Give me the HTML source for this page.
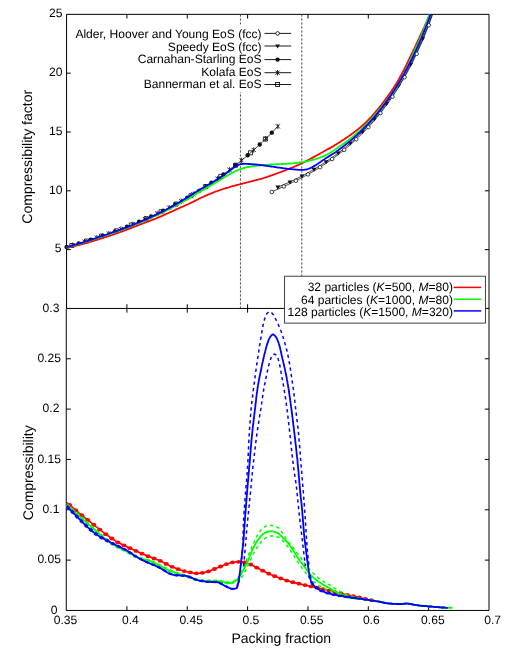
<!DOCTYPE html>
<html><head><meta charset="utf-8"><title>chart</title>
<style>html,body{margin:0;padding:0;background:#fff;width:518px;height:657px;overflow:hidden}</style></head>
<body>
<svg width="518" height="657" viewBox="0 0 518 657" style="position:absolute;left:0;top:0;opacity:0.9999;will-change:transform;font-family:'Liberation Sans',sans-serif" text-rendering="geometricPrecision">
<rect x="0" y="0" width="518" height="657" fill="#fff"/>
<g stroke="#000" stroke-width="1" fill="none">
<path d="M66.55,308.45 L66.55,14.35 L489.0,14.35 L489.0,610.45 L66.25,610.45 L66.25,308.45"/>
<line x1="66.55" y1="308.45" x2="489.0" y2="308.45"/>
<line x1="126.90" y1="14.35" x2="126.90" y2="18.55"/>
<line x1="126.90" y1="304.25" x2="126.90" y2="312.65"/>
<line x1="126.90" y1="610.45" x2="126.90" y2="606.25"/>
<line x1="187.25" y1="14.35" x2="187.25" y2="18.55"/>
<line x1="187.25" y1="304.25" x2="187.25" y2="312.65"/>
<line x1="187.25" y1="610.45" x2="187.25" y2="606.25"/>
<line x1="247.60" y1="14.35" x2="247.60" y2="18.55"/>
<line x1="247.60" y1="304.25" x2="247.60" y2="312.65"/>
<line x1="247.60" y1="610.45" x2="247.60" y2="606.25"/>
<line x1="307.95" y1="14.35" x2="307.95" y2="18.55"/>
<line x1="307.95" y1="304.25" x2="307.95" y2="312.65"/>
<line x1="307.95" y1="610.45" x2="307.95" y2="606.25"/>
<line x1="368.30" y1="14.35" x2="368.30" y2="18.55"/>
<line x1="368.30" y1="304.25" x2="368.30" y2="312.65"/>
<line x1="368.30" y1="610.45" x2="368.30" y2="606.25"/>
<line x1="428.65" y1="14.35" x2="428.65" y2="18.55"/>
<line x1="428.65" y1="304.25" x2="428.65" y2="312.65"/>
<line x1="428.65" y1="610.45" x2="428.65" y2="606.25"/>
<line x1="66.55" y1="249.63" x2="70.75" y2="249.63"/>
<line x1="489.0" y1="249.63" x2="484.8" y2="249.63"/>
<line x1="66.55" y1="190.81" x2="70.75" y2="190.81"/>
<line x1="489.0" y1="190.81" x2="484.8" y2="190.81"/>
<line x1="66.55" y1="131.99" x2="70.75" y2="131.99"/>
<line x1="489.0" y1="131.99" x2="484.8" y2="131.99"/>
<line x1="66.55" y1="73.17" x2="70.75" y2="73.17"/>
<line x1="489.0" y1="73.17" x2="484.8" y2="73.17"/>
<line x1="66.25" y1="560.12" x2="70.85000000000001" y2="560.12"/>
<line x1="489.0" y1="560.12" x2="484.8" y2="560.12"/>
<line x1="66.25" y1="509.78" x2="70.85000000000001" y2="509.78"/>
<line x1="489.0" y1="509.78" x2="484.8" y2="509.78"/>
<line x1="66.25" y1="459.45" x2="70.85000000000001" y2="459.45"/>
<line x1="489.0" y1="459.45" x2="484.8" y2="459.45"/>
<line x1="66.25" y1="409.12" x2="70.85000000000001" y2="409.12"/>
<line x1="489.0" y1="409.12" x2="484.8" y2="409.12"/>
<line x1="66.25" y1="358.78" x2="70.85000000000001" y2="358.78"/>
<line x1="489.0" y1="358.78" x2="484.8" y2="358.78"/>
</g>
<line x1="240.45" y1="14.35" x2="240.45" y2="308.45" stroke="#333" stroke-width="0.85" stroke-dasharray="2.3,1.7"/>
<line x1="301.75" y1="14.35" x2="301.75" y2="308.45" stroke="#333" stroke-width="0.85" stroke-dasharray="2.3,1.7"/>
<defs><clipPath id="ct"><rect x="61.599999999999994" y="14.1" width="427.45000000000005" height="294.25"/></clipPath><clipPath id="cb"><rect x="66.6" y="308.25" width="422.45000000000005" height="301.75"/></clipPath></defs>
<g clip-path="url(#ct)" fill="none" stroke-linejoin="round" stroke-linecap="butt">
<path d="M66.6,247.0 67.6,246.7 68.6,246.4 69.6,246.1 70.6,245.8 71.6,245.6 72.6,245.3 73.6,245.0 74.6,244.7 75.6,244.4 76.6,244.1 77.6,243.8 78.6,243.5 79.6,243.2 80.6,242.9 81.6,242.6 82.6,242.3 83.6,242.0 84.6,241.6 85.6,241.3 86.6,241.0 87.6,240.7 88.6,240.4 89.6,240.1 90.6,239.7 91.6,239.4 92.6,239.1 93.6,238.8 94.6,238.4 95.6,238.1 96.6,237.8 97.6,237.4 98.6,237.1 99.6,236.8 100.6,236.4 101.6,236.1 102.6,235.7 103.6,235.4 104.6,235.1 105.6,234.7 106.6,234.4 107.6,234.0 108.6,233.6 109.6,233.3 110.6,232.9 111.6,232.6 112.6,232.2 113.6,231.8 114.6,231.5 115.6,231.1 116.6,230.7 117.6,230.3 118.6,230.0 119.6,229.6 120.6,229.2 121.6,228.8 122.6,228.4 123.6,228.0 124.6,227.7 125.6,227.3 126.6,226.9 127.6,226.5 128.6,226.1 129.6,225.7 130.6,225.3 131.6,224.9 132.6,224.4 133.6,224.0 134.6,223.6 135.6,223.2 136.6,222.8 137.6,222.4 138.6,221.9 139.6,221.5 140.6,221.1 141.6,220.7 142.6,220.2 143.6,219.8 144.6,219.3 145.6,218.9 146.6,218.5 147.6,218.0 148.6,217.6 149.6,217.1 150.6,216.6 151.6,216.2 152.6,215.7 153.6,215.3 154.6,214.8 155.6,214.3 156.6,213.8 157.6,213.4 158.6,212.9 159.6,212.4 160.6,211.9 161.6,211.4 162.6,210.9 163.6,210.4 164.6,210.0 165.6,209.5 166.6,208.9 167.6,208.4 168.6,207.9 169.6,207.4 170.6,206.9 171.6,206.4 172.6,205.9 173.6,205.3 174.6,204.8 175.6,204.3 176.6,203.7 177.6,203.2 178.6,202.7 179.6,202.1 180.6,201.6 181.6,201.0 182.6,200.5 183.6,199.9 184.6,199.3 185.6,198.8 186.6,198.2 187.6,197.6 188.6,197.0 189.6,196.5 190.6,195.9 191.6,195.3 192.6,194.7 193.6,194.1 194.6,193.5 195.6,192.9 196.6,192.3 197.6,191.7 198.6,191.1 199.6,190.4 200.6,189.8 201.6,189.2 202.6,188.6 203.6,187.9 204.6,187.3 205.6,186.6 206.6,186.0 207.6,185.3 208.6,184.7 209.6,184.0 210.6,183.3 211.6,182.7 212.6,182.0 213.6,181.3 214.6,180.6 215.6,179.9 216.6,179.3 217.6,178.6 218.6,177.9 219.6,177.1 220.6,176.4 221.6,175.7 222.6,175.0 223.6,174.3 224.6,173.5 225.6,172.8 226.6,172.1 227.6,171.3 228.6,170.6 229.6,169.8 230.6,169.0 231.6,168.3 232.6,167.5 233.6,166.7 234.6,166.0 235.6,165.2 236.6,164.4 237.6,163.6 238.6,162.8 239.6,162.0 240.6,161.1 241.6,160.3 242.6,159.5 243.6,158.7 244.6,157.8 245.6,157.0 246.6,156.1 247.6,155.3 248.6,154.4 249.6,153.6 250.6,152.7 251.6,151.8 252.6,150.9 253.6,150.0 254.6,149.1 255.6,148.2 256.6,147.3 257.6,146.4 258.6,145.5 259.6,144.5 260.6,143.6 261.6,142.7 262.6,141.7 263.6,140.8 264.6,139.8 265.6,138.8 266.6,137.9 267.6,136.9 268.6,135.9 269.6,134.9 270.6,133.9 271.6,132.9 272.6,131.8 273.6,130.8 274.6,129.8 275.6,128.7 276.6,127.7 277.6,126.6" stroke="#111" stroke-width="0.85"/>
<path d="M277.8,187.0 279.0,186.5 280.2,186.1 281.4,185.6 282.7,185.1 283.9,184.5 285.1,184.0 286.3,183.5 287.5,183.0 288.7,182.4 289.9,181.9 291.1,181.3 292.3,180.8 293.5,180.2 294.7,179.6 295.9,179.0 297.1,178.4 298.3,177.8 299.6,177.2 300.8,176.6 302.0,176.0 303.2,175.3 304.4,174.7 305.6,174.1 306.8,173.4 308.0,172.7 309.2,172.1 310.4,171.4 311.6,170.7 312.8,170.0 314.0,169.3 315.2,168.6 316.4,167.8 317.7,167.1 318.9,166.3 320.1,165.6 321.3,164.8 322.5,164.0 323.7,163.3 324.9,162.5 326.1,161.7 327.3,160.8 328.5,160.0 329.7,159.2 330.9,158.3 332.1,157.5 333.3,156.6 334.6,155.7 335.8,154.8 337.0,153.9 338.2,153.0 339.4,152.1 340.6,151.1 341.8,150.2 343.0,149.2 344.2,148.2 345.4,147.2 346.6,146.2 347.8,145.2 349.0,144.2 350.2,143.1 351.5,142.1 352.7,141.0 353.9,139.9 355.1,138.8 356.3,137.7 357.5,136.5 358.7,135.4 359.9,134.2 361.1,133.0 362.3,131.8 363.5,130.6 364.7,129.4 365.9,128.1 367.1,126.9 368.4,125.6 369.6,124.2 370.8,122.9 372.0,121.6 373.2,120.2 374.4,118.8 375.6,117.4 376.8,116.0 378.0,114.5 379.2,113.0 380.4,111.5 381.6,110.0 382.8,108.4 384.0,106.9 385.2,105.3 386.5,103.6 387.7,102.0 388.9,100.3 390.1,98.6 391.3,96.8 392.5,95.1 393.7,93.3 394.9,91.4 396.1,89.6 397.3,87.7 398.5,85.8 399.7,83.8 400.9,81.8 402.1,79.8 403.4,77.7 404.6,75.6 405.8,73.4 407.0,71.3 408.2,69.0 409.4,66.8 410.6,64.5 411.8,62.1 413.0,59.7 414.2,57.2 415.4,54.7 416.6,52.2 417.8,49.6 419.0,46.9 420.3,44.2 421.5,41.5 422.7,38.6 423.9,35.8 425.1,32.8 426.3,29.8 427.5,26.7 428.7,23.6 429.9,20.4 431.1,17.1 432.3,13.7 433.5,10.3 434.7,6.7 435.9,3.1 437.1,-0.6 438.4,-4.4 439.6,-8.2 440.8,-12.2" stroke="#111" stroke-width="0.85"/>
<path d="M271.8,192.0 273.0,191.4 274.2,190.8 275.4,190.3 276.6,189.7 277.8,189.2 279.0,188.6 280.2,188.1 281.4,187.5 282.7,187.0 283.9,186.4 285.1,185.9 286.3,185.3 287.5,184.8 288.7,184.2 289.9,183.6 291.1,183.1 292.3,182.5 293.5,181.9 294.7,181.3 295.9,180.7 297.1,180.1 298.3,179.5 299.6,178.9 300.8,178.2 302.0,177.6 303.2,177.0 304.4,176.3 305.6,175.7 306.8,175.0 308.0,174.3 309.2,173.7 310.4,173.0 311.6,172.3 312.8,171.6 314.0,170.9 315.2,170.2 316.4,169.4 317.7,168.7 318.9,167.9 320.1,167.2 321.3,166.4 322.5,165.6 323.7,164.8 324.9,164.1 326.1,163.2 327.3,162.4 328.5,161.6 329.7,160.8 330.9,159.9 332.1,159.1 333.3,158.2 334.6,157.3 335.8,156.4 337.0,155.5 338.2,154.6 339.4,153.7 340.6,152.7 341.8,151.8 343.0,150.8 344.2,149.8 345.4,148.8 346.6,147.8 347.8,146.8 349.0,145.8 350.2,144.7 351.5,143.7 352.7,142.6 353.9,141.5 355.1,140.4 356.3,139.3 357.5,138.1 358.7,137.0 359.9,135.8 361.1,134.6 362.3,133.4 363.5,132.2 364.7,131.0 365.9,129.7 367.1,128.4 368.4,127.2 369.6,125.8 370.8,124.5 372.0,123.2 373.2,121.8 374.4,120.4 375.6,119.0 376.8,117.5 378.0,116.1 379.2,114.6 380.4,113.1 381.6,111.6 382.8,110.0 384.0,108.4 385.2,106.8 386.5,105.2 387.7,103.6 388.9,101.9 390.1,100.2 391.3,98.4 392.5,96.7 393.7,94.9 394.9,93.0 396.1,91.2 397.3,89.3 398.5,87.3 399.7,85.4 400.9,83.4 402.1,81.4 403.4,79.3 404.6,77.2 405.8,75.0 407.0,72.9 408.2,70.6 409.4,68.4 410.6,66.0 411.8,63.7 413.0,61.3 414.2,58.8 415.4,56.3 416.6,53.8 417.8,51.2 419.0,48.5 420.3,45.8 421.5,43.1 422.7,40.2 423.9,37.3 425.1,34.4 426.3,31.4 427.5,28.3 428.7,25.2 429.9,21.9 431.1,18.7 432.3,15.3 433.5,11.8 434.7,8.3 435.9,4.7 437.1,1.0 438.4,-2.8 439.6,-6.6 440.8,-10.6" stroke="#111" stroke-width="0.85"/>
<rect x="69.75" y="243.51" width="4.0" height="4.0" fill="none" stroke="#111" stroke-width="0.85"/>
<rect x="84.65" y="239.01" width="4.0" height="4.0" fill="none" stroke="#111" stroke-width="0.85"/>
<rect x="99.54" y="234.11" width="4.0" height="4.0" fill="none" stroke="#111" stroke-width="0.85"/>
<rect x="114.44" y="228.78" width="4.0" height="4.0" fill="none" stroke="#111" stroke-width="0.85"/>
<rect x="129.33" y="222.97" width="4.0" height="4.0" fill="none" stroke="#111" stroke-width="0.85"/>
<rect x="144.23" y="216.62" width="4.0" height="4.0" fill="none" stroke="#111" stroke-width="0.85"/>
<rect x="159.12" y="209.67" width="4.0" height="4.0" fill="none" stroke="#111" stroke-width="0.85"/>
<rect x="174.01" y="202.05" width="4.0" height="4.0" fill="none" stroke="#111" stroke-width="0.85"/>
<rect x="188.91" y="193.69" width="4.0" height="4.0" fill="none" stroke="#111" stroke-width="0.85"/>
<rect x="203.80" y="184.50" width="4.0" height="4.0" fill="none" stroke="#111" stroke-width="0.85"/>
<rect x="218.70" y="174.36" width="4.0" height="4.0" fill="none" stroke="#111" stroke-width="0.85"/>
<rect x="233.59" y="163.17" width="4.0" height="4.0" fill="none" stroke="#111" stroke-width="0.85"/>
<rect x="248.49" y="150.78" width="4.0" height="4.0" fill="none" stroke="#111" stroke-width="0.85"/>
<rect x="263.38" y="137.04" width="4.0" height="4.0" fill="none" stroke="#111" stroke-width="0.85"/>
<path d="M70.54,243.15 L74.73,247.35 M70.54,247.35 L74.73,243.15 M72.64,242.55 L72.64,247.95" stroke="#111" stroke-width="0.9"/>
<path d="M82.61,239.51 L86.81,243.71 M82.61,243.71 L86.81,239.51 M84.71,238.91 L84.71,244.31" stroke="#111" stroke-width="0.9"/>
<path d="M94.68,235.62 L98.88,239.82 M94.68,239.82 L98.88,235.62 M96.78,235.02 L96.78,240.42" stroke="#111" stroke-width="0.9"/>
<path d="M106.75,231.46 L110.95,235.66 M106.75,235.66 L110.95,231.46 M108.85,230.86 L108.85,236.26" stroke="#111" stroke-width="0.9"/>
<path d="M118.82,226.99 L123.02,231.19 M118.82,231.19 L123.02,226.99 M120.92,226.39 L120.92,231.79" stroke="#111" stroke-width="0.9"/>
<path d="M130.89,222.19 L135.09,226.39 M130.89,226.39 L135.09,222.19 M132.99,221.59 L132.99,226.99" stroke="#111" stroke-width="0.9"/>
<path d="M142.96,217.04 L147.16,221.24 M142.96,221.24 L147.16,217.04 M145.06,216.44 L145.06,221.84" stroke="#111" stroke-width="0.9"/>
<path d="M155.03,211.50 L159.23,215.70 M155.03,215.70 L159.23,211.50 M157.13,210.90 L157.13,216.30" stroke="#111" stroke-width="0.9"/>
<path d="M167.10,205.53 L171.30,209.73 M167.10,209.73 L171.30,205.53 M169.20,204.93 L169.20,210.33" stroke="#111" stroke-width="0.9"/>
<path d="M179.17,199.10 L183.37,203.30 M179.17,203.30 L183.37,199.10 M181.27,198.50 L181.27,203.90" stroke="#111" stroke-width="0.9"/>
<path d="M191.24,192.16 L195.44,196.36 M191.24,196.36 L195.44,192.16 M193.34,191.56 L193.34,196.96" stroke="#111" stroke-width="0.9"/>
<path d="M203.31,184.65 L207.51,188.85 M203.31,188.85 L207.51,184.65 M205.41,184.05 L205.41,189.45" stroke="#111" stroke-width="0.9"/>
<path d="M215.38,176.54 L219.58,180.74 M215.38,180.74 L219.58,176.54 M217.48,175.94 L217.48,181.34" stroke="#111" stroke-width="0.9"/>
<path d="M227.45,167.75 L231.65,171.95 M227.45,171.95 L231.65,167.75 M229.55,167.15 L229.55,172.55" stroke="#111" stroke-width="0.9"/>
<path d="M239.52,158.21 L243.72,162.41 M239.52,162.41 L243.72,158.21 M241.62,157.61 L241.62,163.01" stroke="#111" stroke-width="0.9"/>
<path d="M251.59,147.85 L255.79,152.05 M251.59,152.05 L255.79,147.85 M253.69,147.25 L253.69,152.65" stroke="#111" stroke-width="0.9"/>
<path d="M263.66,136.58 L267.86,140.78 M263.66,140.78 L267.86,136.58 M265.76,135.98 L265.76,141.38" stroke="#111" stroke-width="0.9"/>
<path d="M275.73,124.29 L279.93,128.49 M275.73,128.49 L279.93,124.29 M277.83,123.69 L277.83,129.09" stroke="#111" stroke-width="0.9"/>
<circle cx="66.60" cy="246.98" r="2.2" fill="#111" stroke="none"/>
<circle cx="78.67" cy="243.46" r="2.2" fill="#111" stroke="none"/>
<circle cx="90.74" cy="239.70" r="2.2" fill="#111" stroke="none"/>
<circle cx="102.81" cy="235.68" r="2.2" fill="#111" stroke="none"/>
<circle cx="114.88" cy="231.36" r="2.2" fill="#111" stroke="none"/>
<circle cx="126.95" cy="226.73" r="2.2" fill="#111" stroke="none"/>
<circle cx="139.02" cy="221.76" r="2.2" fill="#111" stroke="none"/>
<circle cx="151.09" cy="216.42" r="2.2" fill="#111" stroke="none"/>
<circle cx="163.16" cy="210.67" r="2.2" fill="#111" stroke="none"/>
<circle cx="175.23" cy="204.47" r="2.2" fill="#111" stroke="none"/>
<circle cx="187.30" cy="197.79" r="2.2" fill="#111" stroke="none"/>
<circle cx="199.37" cy="190.58" r="2.2" fill="#111" stroke="none"/>
<circle cx="211.44" cy="182.78" r="2.2" fill="#111" stroke="none"/>
<circle cx="223.51" cy="174.33" r="2.2" fill="#111" stroke="none"/>
<circle cx="235.58" cy="165.18" r="2.2" fill="#111" stroke="none"/>
<circle cx="247.65" cy="155.24" r="2.2" fill="#111" stroke="none"/>
<circle cx="259.72" cy="144.43" r="2.2" fill="#111" stroke="none"/>
<circle cx="271.79" cy="132.67" r="2.2" fill="#111" stroke="none"/>
<path d="M275.43,185.53 L280.23,185.53 L277.83,189.63 Z" fill="#111" stroke="none"/>
<path d="M287.50,180.38 L292.30,180.38 L289.90,184.48 Z" fill="#111" stroke="none"/>
<path d="M299.57,174.48 L304.37,174.48 L301.97,178.58 Z" fill="#111" stroke="none"/>
<path d="M311.64,167.77 L316.44,167.77 L314.04,171.87 Z" fill="#111" stroke="none"/>
<path d="M323.71,160.15 L328.51,160.15 L326.11,164.25 Z" fill="#111" stroke="none"/>
<path d="M335.78,151.50 L340.58,151.50 L338.18,155.60 Z" fill="#111" stroke="none"/>
<path d="M347.85,141.64 L352.65,141.64 L350.25,145.74 Z" fill="#111" stroke="none"/>
<path d="M359.92,130.34 L364.72,130.34 L362.32,134.44 Z" fill="#111" stroke="none"/>
<path d="M371.99,117.30 L376.79,117.30 L374.39,121.40 Z" fill="#111" stroke="none"/>
<path d="M384.06,102.12 L388.86,102.12 L386.46,106.22 Z" fill="#111" stroke="none"/>
<path d="M396.13,84.26 L400.93,84.26 L398.53,88.36 Z" fill="#111" stroke="none"/>
<path d="M408.20,62.95 L413.00,62.95 L410.60,67.05 Z" fill="#111" stroke="none"/>
<path d="M420.27,37.14 L425.07,37.14 L422.67,41.24 Z" fill="#111" stroke="none"/>
<path d="M432.34,5.23 L437.14,5.23 L434.74,9.33 Z" fill="#111" stroke="none"/>
<circle cx="271.79" cy="191.97" r="1.8" fill="#fff" stroke="#111" stroke-width="0.8"/>
<circle cx="283.86" cy="186.44" r="1.8" fill="#fff" stroke="#111" stroke-width="0.8"/>
<circle cx="295.93" cy="180.71" r="1.8" fill="#fff" stroke="#111" stroke-width="0.8"/>
<circle cx="308.00" cy="174.35" r="1.8" fill="#fff" stroke="#111" stroke-width="0.8"/>
<circle cx="320.07" cy="167.18" r="1.8" fill="#fff" stroke="#111" stroke-width="0.8"/>
<circle cx="332.14" cy="159.06" r="1.8" fill="#fff" stroke="#111" stroke-width="0.8"/>
<circle cx="344.21" cy="149.82" r="1.8" fill="#fff" stroke="#111" stroke-width="0.8"/>
<circle cx="356.28" cy="139.27" r="1.8" fill="#fff" stroke="#111" stroke-width="0.8"/>
<circle cx="368.35" cy="127.15" r="1.8" fill="#fff" stroke="#111" stroke-width="0.8"/>
<circle cx="380.42" cy="113.10" r="1.8" fill="#fff" stroke="#111" stroke-width="0.8"/>
<circle cx="392.49" cy="96.66" r="1.8" fill="#fff" stroke="#111" stroke-width="0.8"/>
<circle cx="404.56" cy="77.18" r="1.8" fill="#fff" stroke="#111" stroke-width="0.8"/>
<circle cx="416.63" cy="53.78" r="1.8" fill="#fff" stroke="#111" stroke-width="0.8"/>
<circle cx="428.70" cy="25.16" r="1.8" fill="#fff" stroke="#111" stroke-width="0.8"/>
<circle cx="440.77" cy="-10.62" r="1.8" fill="#fff" stroke="#111" stroke-width="0.8"/>
<path d="M66.6,248.0 67.6,247.7 68.6,247.5 69.5,247.3 70.5,247.0 71.5,246.8 72.4,246.5 73.4,246.3 74.4,246.1 75.4,245.8 76.3,245.6 77.3,245.3 78.3,245.1 79.3,244.8 80.2,244.6 81.2,244.3 82.2,244.0 83.1,243.8 84.1,243.5 85.1,243.3 86.0,243.0 87.0,242.7 88.0,242.5 88.9,242.2 89.9,241.9 90.9,241.6 91.8,241.3 92.8,241.1 93.8,240.8 94.7,240.5 95.7,240.2 96.6,239.9 97.6,239.6 98.6,239.3 99.5,239.0 100.5,238.7 101.4,238.5 102.4,238.1 103.3,237.8 104.3,237.5 105.3,237.2 106.2,236.9 107.2,236.6 108.1,236.3 109.1,236.0 110.0,235.7 111.0,235.3 111.9,235.0 112.9,234.7 113.8,234.4 114.8,234.0 115.7,233.7 116.7,233.4 117.6,233.0 118.6,232.7 119.5,232.4 120.4,232.0 121.4,231.7 122.3,231.3 123.3,231.0 124.2,230.6 125.1,230.3 126.1,229.9 127.0,229.6 128.0,229.2 128.9,228.9 129.8,228.5 130.8,228.1 131.7,227.8 132.6,227.4 133.6,227.0 134.5,226.7 135.4,226.3 136.4,226.0 137.3,225.6 138.3,225.2 139.2,224.9 140.1,224.5 141.1,224.2 142.0,223.8 142.9,223.4 143.9,223.1 144.8,222.7 145.8,222.4 146.7,222.0 147.6,221.7 148.6,221.3 149.5,221.0 150.4,220.6 151.4,220.2 152.3,219.9 153.3,219.5 154.2,219.1 155.1,218.8 156.1,218.4 157.0,218.0 157.9,217.6 158.8,217.2 159.8,216.9 160.7,216.5 161.6,216.1 162.5,215.7 163.4,215.3 164.4,214.9 165.3,214.4 166.2,214.0 167.1,213.6 168.0,213.2 168.9,212.8 169.8,212.4 170.7,211.9 171.7,211.5 172.6,211.1 173.5,210.7 174.4,210.3 175.3,209.9 176.2,209.4 177.1,209.0 178.1,208.6 179.0,208.2 179.9,207.8 180.8,207.4 181.7,207.0 182.7,206.6 183.6,206.2 184.5,205.8 185.4,205.4 186.3,205.0 187.2,204.6 188.1,204.2 189.0,203.7 190.0,203.3 190.9,202.9 191.8,202.4 192.6,202.0 193.5,201.5 194.4,201.1 195.3,200.6 196.2,200.2 197.1,199.7 198.0,199.3 198.9,198.8 199.8,198.4 200.7,198.0 201.6,197.5 202.5,197.1 203.5,196.7 204.4,196.3 205.3,195.9 206.2,195.5 207.1,195.1 208.1,194.7 209.0,194.3 209.9,193.9 210.8,193.5 211.8,193.1 212.7,192.8 213.6,192.4 214.6,192.0 215.5,191.7 216.4,191.3 217.4,191.0 218.3,190.6 219.3,190.3 220.2,190.0 221.2,189.7 222.1,189.3 223.1,189.0 224.0,188.7 225.0,188.4 225.9,188.1 226.9,187.8 227.9,187.6 228.8,187.3 229.8,187.0 230.7,186.7 231.7,186.4 232.7,186.2 233.6,185.9 234.6,185.6 235.6,185.4 236.5,185.1 237.5,184.8 238.5,184.6 239.5,184.3 240.4,184.1 241.4,183.8 242.4,183.6 243.3,183.3 244.3,183.1 245.3,182.8 246.3,182.6 247.2,182.4 248.2,182.1 249.2,181.9 250.2,181.6 251.1,181.4 252.1,181.2 253.1,180.9 254.1,180.7 255.0,180.4 256.0,180.2 257.0,179.9 257.9,179.7 258.9,179.4 259.9,179.1 260.8,178.8 261.8,178.6 262.8,178.3 263.7,178.0 264.7,177.7 265.6,177.4 266.6,177.1 267.5,176.7 268.5,176.4 269.4,176.1 270.4,175.8 271.3,175.4 272.3,175.1 273.2,174.7 274.1,174.4 275.1,174.1 276.0,173.7 277.0,173.4 277.9,173.0 278.9,172.7 279.8,172.3 280.7,172.0 281.7,171.6 282.6,171.3 283.6,170.9 284.5,170.6 285.4,170.2 286.4,169.9 287.3,169.5 288.3,169.2 289.2,168.8 290.1,168.4 291.0,168.0 292.0,167.7 292.9,167.3 293.8,166.9 294.7,166.5 295.7,166.1 296.6,165.7 297.5,165.3 298.4,164.9 299.3,164.5 300.2,164.0 301.1,163.6 302.0,163.2 302.9,162.7 303.8,162.3 304.7,161.8 305.6,161.4 306.5,160.9 307.4,160.5 308.3,160.0 309.2,159.5 310.1,159.0 311.0,158.6 311.8,158.1 312.7,157.6 313.6,157.1 314.5,156.6 315.4,156.1 316.2,155.7 317.1,155.2 318.0,154.7 318.9,154.2 319.7,153.7 320.6,153.2 321.5,152.8 322.4,152.3 323.3,151.8 324.1,151.3 325.0,150.8 325.9,150.3 326.8,149.8 327.6,149.4 328.5,148.9 329.4,148.4 330.3,147.9 331.1,147.4 332.0,146.9 332.9,146.4 333.7,145.9 334.6,145.3 335.4,144.8 336.3,144.3 337.1,143.8 338.0,143.2 338.8,142.7 339.7,142.2 340.5,141.6 341.4,141.1 342.2,140.6 343.1,140.0 343.9,139.5 344.7,138.9 345.6,138.4 346.4,137.8 347.2,137.3 348.1,136.7 348.9,136.1 349.7,135.6 350.5,135.0 351.3,134.4 352.1,133.8 352.9,133.2 353.7,132.6 354.5,132.0 355.3,131.4 356.1,130.8 356.9,130.1 357.7,129.5 358.5,128.9 359.3,128.3 360.0,127.6 360.8,127.0 361.6,126.4 362.3,125.7 363.1,125.0 363.8,124.4 364.6,123.7 365.3,123.0 366.0,122.3 366.7,121.6 367.4,120.9 368.1,120.2 368.8,119.5 369.5,118.7 370.2,118.0 370.9,117.3 371.6,116.5 372.2,115.8 372.9,115.0 373.6,114.3 374.2,113.5 374.9,112.8 375.5,112.0 376.2,111.2 376.8,110.5 377.5,109.7 378.1,108.9 378.8,108.2 379.4,107.4 380.0,106.6 380.6,105.8 381.3,105.0 381.9,104.2 382.5,103.4 383.1,102.6 383.7,101.8 384.3,101.0 384.9,100.2 385.5,99.4 386.1,98.6 386.7,97.8 387.3,97.0 387.9,96.2 388.5,95.4 389.0,94.6 389.6,93.7 390.2,92.9 390.8,92.1 391.3,91.3 391.9,90.4 392.4,89.6 393.0,88.8 393.6,87.9 394.1,87.1 394.6,86.2 395.2,85.4 395.7,84.5 396.2,83.7 396.7,82.8 397.3,82.0 397.8,81.1 398.3,80.2 398.8,79.4 399.3,78.5 399.7,77.6 400.2,76.7 400.7,75.8 401.2,75.0 401.7,74.1 402.1,73.2 402.6,72.3 403.1,71.4 403.5,70.5 404.0,69.6 404.4,68.7 404.9,67.9 405.4,67.0 405.8,66.1 406.3,65.2 406.7,64.3 407.1,63.4 407.6,62.5 408.0,61.6 408.4,60.7 408.9,59.7 409.3,58.8 409.7,57.9 410.2,57.0 410.6,56.1 411.0,55.2 411.5,54.3 411.9,53.4 412.3,52.5 412.8,51.6 413.2,50.7 413.6,49.8 414.1,48.9 414.5,48.0 414.9,47.1 415.4,46.2 415.8,45.3 416.2,44.3 416.6,43.4 417.1,42.5 417.5,41.6 417.9,40.7 418.3,39.8 418.8,38.9 419.2,38.0 419.6,37.1 420.0,36.2 420.5,35.3 420.9,34.3 421.3,33.4 421.7,32.5 422.2,31.6 422.6,30.7 423.0,29.8 423.4,28.9 423.8,28.0 424.3,27.1 424.7,26.2 425.1,25.2 425.5,24.3 425.9,23.4 426.3,22.5 426.7,21.6 427.1,20.6 427.5,19.7 427.9,18.8 428.3,17.9 428.6,16.9 429.0,16.0 429.4,15.1 429.7,14.1 430.1,13.2 430.5,12.3 430.8,11.3 431.2,10.4 431.5,9.4 431.9,8.5 432.2,7.6 432.5,6.6 432.9,5.7 433.2,4.7 433.5,3.8 433.8,2.8 434.1,1.9 434.5,0.9 434.8,-0.0 435.1,-1.0 435.4,-2.0 435.7,-2.9 436.0,-3.9" stroke="#ff0000" stroke-width="1.8"/>
<path d="M66.6,247.6 67.6,247.3 68.5,247.0 69.5,246.7 70.5,246.5 71.4,246.2 72.4,245.9 73.3,245.6 74.3,245.3 75.3,245.1 76.2,244.8 77.2,244.5 78.1,244.2 79.1,243.9 80.1,243.6 81.0,243.3 82.0,243.0 82.9,242.7 83.9,242.4 84.8,242.1 85.8,241.8 86.8,241.5 87.7,241.2 88.7,240.9 89.6,240.6 90.6,240.3 91.5,240.0 92.5,239.7 93.4,239.4 94.4,239.1 95.3,238.8 96.3,238.5 97.2,238.1 98.2,237.8 99.2,237.5 100.1,237.2 101.1,236.9 102.0,236.6 103.0,236.3 103.9,235.9 104.9,235.6 105.8,235.3 106.8,235.0 107.7,234.7 108.7,234.4 109.6,234.0 110.6,233.7 111.5,233.4 112.5,233.1 113.4,232.7 114.4,232.4 115.3,232.1 116.2,231.7 117.2,231.4 118.1,231.1 119.1,230.7 120.0,230.4 121.0,230.1 121.9,229.7 122.8,229.4 123.8,229.0 124.7,228.7 125.7,228.3 126.6,228.0 127.5,227.6 128.5,227.2 129.4,226.9 130.3,226.5 131.3,226.1 132.2,225.8 133.1,225.4 134.1,225.0 135.0,224.7 135.9,224.3 136.9,223.9 137.8,223.5 138.7,223.1 139.6,222.8 140.6,222.4 141.5,222.0 142.4,221.6 143.3,221.2 144.3,220.8 145.2,220.4 146.1,220.0 147.0,219.6 147.9,219.2 148.8,218.8 149.8,218.4 150.7,218.0 151.6,217.6 152.5,217.2 153.4,216.8 154.3,216.3 155.2,215.9 156.1,215.5 157.1,215.1 158.0,214.6 158.9,214.2 159.8,213.8 160.7,213.4 161.6,212.9 162.5,212.5 163.4,212.0 164.3,211.6 165.2,211.1 166.1,210.7 166.9,210.2 167.8,209.8 168.7,209.3 169.6,208.9 170.5,208.4 171.4,207.9 172.3,207.5 173.2,207.0 174.1,206.5 175.0,206.1 175.8,205.6 176.7,205.1 177.6,204.7 178.5,204.2 179.4,203.7 180.3,203.2 181.1,202.8 182.0,202.3 182.9,201.8 183.8,201.3 184.7,200.8 185.5,200.4 186.4,199.9 187.3,199.4 188.2,198.9 189.0,198.4 189.9,197.9 190.7,197.3 191.6,196.8 192.5,196.3 193.3,195.8 194.2,195.3 195.0,194.7 195.9,194.2 196.7,193.7 197.6,193.1 198.4,192.6 199.3,192.1 200.1,191.6 201.0,191.1 201.9,190.6 202.7,190.1 203.6,189.6 204.5,189.1 205.3,188.6 206.2,188.1 207.1,187.6 207.9,187.1 208.8,186.6 209.7,186.1 210.5,185.6 211.4,185.1 212.3,184.6 213.1,184.0 214.0,183.5 214.9,183.0 215.7,182.5 216.6,182.0 217.5,181.5 218.3,181.0 219.2,180.5 220.0,179.9 220.9,179.4 221.7,178.9 222.6,178.4 223.4,177.8 224.3,177.3 225.2,176.8 226.0,176.3 226.9,175.8 227.8,175.3 228.6,174.8 229.5,174.3 230.4,173.8 231.3,173.3 232.1,172.9 233.0,172.4 233.9,172.0 234.8,171.5 235.7,171.1 236.7,170.7 237.6,170.3 238.5,169.9 239.4,169.6 240.4,169.2 241.3,168.9 242.2,168.5 243.2,168.2 244.2,168.0 245.1,167.7 246.1,167.4 247.0,167.2 248.0,167.0 249.0,166.8 250.0,166.6 251.0,166.4 252.0,166.3 252.9,166.1 253.9,166.0 254.9,165.9 255.9,165.8 256.9,165.7 257.9,165.6 258.9,165.5 259.9,165.4 260.9,165.3 261.9,165.2 262.9,165.1 263.9,165.0 264.9,164.9 265.9,164.8 266.9,164.7 267.9,164.7 268.9,164.6 269.9,164.6 270.9,164.5 271.9,164.5 272.9,164.4 273.9,164.4 274.9,164.3 275.9,164.3 276.9,164.2 277.9,164.2 278.9,164.2 279.9,164.1 280.9,164.1 281.9,164.0 282.9,164.0 283.9,163.9 284.9,163.9 285.9,163.8 286.9,163.8 287.9,163.7 288.9,163.6 289.9,163.6 290.9,163.5 291.9,163.4 292.9,163.3 293.9,163.2 294.9,163.1 295.9,163.0 296.9,162.9 297.9,162.8 298.9,162.7 299.9,162.5 300.9,162.4 301.9,162.2 302.8,162.1 303.8,161.9 304.8,161.7 305.8,161.5 306.8,161.3 307.8,161.1 308.7,160.9 309.7,160.6 310.7,160.4 311.6,160.2 312.6,159.9 313.6,159.6 314.5,159.4 315.5,159.1 316.5,158.8 317.4,158.5 318.4,158.2 319.3,157.8 320.2,157.5 321.2,157.1 322.1,156.8 323.0,156.4 323.9,156.0 324.9,155.6 325.8,155.1 326.7,154.7 327.5,154.2 328.4,153.8 329.3,153.3 330.2,152.8 331.0,152.3 331.9,151.7 332.7,151.2 333.6,150.7 334.4,150.1 335.2,149.5 336.0,149.0 336.9,148.4 337.7,147.8 338.5,147.2 339.3,146.6 340.1,146.1 340.9,145.5 341.8,144.9 342.6,144.3 343.4,143.7 344.2,143.2 345.0,142.6 345.8,142.0 346.6,141.4 347.4,140.8 348.2,140.2 349.0,139.6 349.8,139.0 350.6,138.4 351.4,137.7 352.2,137.1 353.0,136.5 353.7,135.8 354.5,135.2 355.3,134.5 356.0,133.9 356.8,133.2 357.5,132.6 358.3,131.9 359.0,131.3 359.8,130.6 360.5,129.9 361.3,129.2 362.0,128.5 362.7,127.9 363.4,127.2 364.2,126.5 364.9,125.8 365.6,125.1 366.3,124.3 367.0,123.6 367.7,122.9 368.4,122.2 369.1,121.5 369.7,120.7 370.4,120.0 371.1,119.2 371.8,118.5 372.4,117.8 373.1,117.0 373.8,116.3 374.4,115.5 375.1,114.7 375.7,114.0 376.4,113.2 377.0,112.5 377.7,111.7 378.3,110.9 379.0,110.1 379.6,109.4 380.2,108.6 380.9,107.8 381.5,107.0 382.1,106.3 382.7,105.5 383.4,104.7 384.0,103.9 384.6,103.1 385.3,102.4 385.9,101.6 386.6,100.8 387.2,100.0 387.8,99.3 388.4,98.5 389.1,97.7 389.7,96.9 390.3,96.1 390.9,95.4 391.6,94.6 392.2,93.8 392.8,93.0 393.4,92.2 394.0,91.4 394.5,90.5 395.1,89.7 395.7,88.9 396.2,88.1 396.7,87.2 397.3,86.4 397.8,85.5 398.3,84.6 398.8,83.8 399.3,82.9 399.7,82.0 400.2,81.1 400.7,80.2 401.2,79.4 401.6,78.5 402.1,77.6 402.5,76.7 403.0,75.8 403.5,74.9 403.9,74.0 404.3,73.1 404.8,72.2 405.2,71.3 405.6,70.4 406.1,69.5 406.5,68.6 406.9,67.7 407.3,66.8 407.8,65.8 408.2,64.9 408.6,64.0 409.0,63.1 409.4,62.2 409.8,61.3 410.2,60.4 410.6,59.4 411.0,58.5 411.4,57.6 411.9,56.7 412.3,55.8 412.7,54.9 413.1,54.0 413.5,53.1 413.9,52.2 414.4,51.2 414.8,50.3 415.2,49.4 415.6,48.5 416.0,47.6 416.5,46.7 416.9,45.8 417.3,44.9 417.7,44.0 418.1,43.0 418.5,42.1 418.9,41.2 419.3,40.3 419.7,39.4 420.1,38.4 420.5,37.5 420.9,36.6 421.3,35.7 421.7,34.7 422.0,33.8 422.4,32.9 422.8,32.0 423.2,31.0 423.6,30.1 423.9,29.2 424.3,28.2 424.7,27.3 425.0,26.4 425.4,25.4 425.8,24.5 426.1,23.6 426.5,22.6 426.8,21.7 427.2,20.8 427.5,19.8 427.9,18.9 428.2,18.0 428.6,17.0 428.9,16.1 429.3,15.1 429.6,14.2 429.9,13.2 430.3,12.3 430.6,11.3 430.9,10.4 431.3,9.5 431.6,8.5 431.9,7.6 432.2,6.6 432.6,5.7 432.9,4.7 433.2,3.8 433.5,2.8 433.8,1.9 434.1,0.9 434.5,-0.0 434.8,-1.0 435.1,-2.0 435.4,-2.9 435.7,-3.9 436.0,-4.8" stroke="#00ff00" stroke-width="1.8"/>
<path d="M66.6,247.3 67.6,247.0 68.5,246.7 69.5,246.4 70.5,246.1 71.4,245.9 72.4,245.6 73.3,245.3 74.3,245.0 75.3,244.7 76.2,244.4 77.2,244.1 78.1,243.8 79.1,243.5 80.0,243.2 81.0,242.9 82.0,242.6 82.9,242.3 83.9,242.0 84.8,241.7 85.8,241.4 86.7,241.1 87.7,240.8 88.7,240.5 89.6,240.2 90.6,239.9 91.5,239.6 92.5,239.2 93.4,238.9 94.4,238.6 95.3,238.3 96.3,238.0 97.2,237.7 98.2,237.3 99.1,237.0 100.1,236.7 101.0,236.4 102.0,236.1 102.9,235.8 103.9,235.4 104.8,235.1 105.8,234.8 106.7,234.5 107.7,234.2 108.6,233.8 109.6,233.5 110.5,233.2 111.5,232.9 112.4,232.5 113.4,232.2 114.3,231.9 115.3,231.5 116.2,231.2 117.2,230.9 118.1,230.5 119.0,230.2 120.0,229.8 120.9,229.5 121.9,229.1 122.8,228.8 123.7,228.4 124.7,228.1 125.6,227.7 126.6,227.4 127.5,227.0 128.4,226.6 129.4,226.3 130.3,225.9 131.2,225.5 132.2,225.2 133.1,224.8 134.0,224.4 135.0,224.0 135.9,223.6 136.8,223.3 137.7,222.9 138.7,222.5 139.6,222.1 140.5,221.7 141.4,221.3 142.4,220.9 143.3,220.5 144.2,220.1 145.1,219.7 146.0,219.3 147.0,218.9 147.9,218.5 148.8,218.1 149.7,217.7 150.6,217.3 151.5,216.8 152.4,216.4 153.3,216.0 154.3,215.6 155.2,215.1 156.1,214.7 157.0,214.3 157.9,213.8 158.8,213.4 159.7,213.0 160.6,212.5 161.5,212.1 162.4,211.6 163.2,211.1 164.1,210.7 165.0,210.2 165.9,209.7 166.8,209.3 167.7,208.8 168.6,208.3 169.4,207.8 170.3,207.4 171.2,206.9 172.1,206.4 173.0,205.9 173.8,205.4 174.7,204.9 175.6,204.4 176.5,203.9 177.3,203.4 178.2,202.9 179.1,202.4 179.9,201.9 180.8,201.4 181.6,200.9 182.5,200.4 183.4,199.8 184.2,199.3 185.1,198.8 185.9,198.3 186.8,197.7 187.6,197.2 188.5,196.7 189.3,196.1 190.2,195.6 191.0,195.0 191.9,194.5 192.7,194.0 193.5,193.4 194.4,192.9 195.2,192.3 196.1,191.8 196.9,191.3 197.8,190.8 198.6,190.2 199.5,189.7 200.4,189.2 201.2,188.7 202.1,188.2 203.0,187.7 203.9,187.2 204.7,186.7 205.6,186.2 206.5,185.8 207.4,185.3 208.2,184.8 209.1,184.3 210.0,183.8 210.9,183.3 211.7,182.8 212.6,182.3 213.5,181.8 214.3,181.3 215.2,180.8 216.0,180.2 216.9,179.7 217.8,179.2 218.6,178.7 219.4,178.1 220.3,177.6 221.1,177.0 221.9,176.4 222.7,175.8 223.6,175.3 224.4,174.7 225.2,174.1 226.0,173.5 226.8,172.9 227.6,172.3 228.4,171.7 229.2,171.1 230.0,170.5 230.8,169.9 231.6,169.3 232.4,168.7 233.2,168.1 234.1,167.5 234.9,166.9 235.7,166.4 236.6,165.9 237.5,165.5 238.4,165.0 239.3,164.7 240.2,164.4 241.2,164.2 242.1,164.0 243.1,163.9 244.1,163.9 245.1,163.8 246.1,163.8 247.1,163.9 248.1,163.9 249.1,164.0 250.1,164.1 251.1,164.1 252.1,164.2 253.1,164.3 254.1,164.4 255.1,164.4 256.1,164.5 257.1,164.6 258.1,164.7 259.1,164.8 260.1,165.0 261.1,165.1 262.1,165.2 263.1,165.4 264.1,165.5 265.1,165.6 266.1,165.8 267.1,165.9 268.1,166.1 269.1,166.2 270.0,166.3 271.0,166.5 272.0,166.6 273.0,166.7 274.0,166.9 275.0,167.0 276.0,167.2 277.0,167.3 278.0,167.5 279.0,167.6 280.0,167.7 281.0,167.9 282.0,168.0 283.0,168.2 284.0,168.3 284.9,168.4 285.9,168.6 286.9,168.7 287.9,168.8 288.9,168.9 289.9,169.0 290.9,169.1 291.9,169.2 292.9,169.3 293.9,169.4 294.9,169.5 295.9,169.6 296.9,169.7 297.9,169.8 298.9,169.8 299.9,169.9 300.9,169.9 301.9,169.9 302.9,169.9 303.9,169.8 304.9,169.6 305.9,169.5 306.8,169.3 307.8,169.0 308.7,168.7 309.7,168.4 310.6,168.0 311.5,167.6 312.4,167.1 313.3,166.6 314.1,166.1 315.0,165.6 315.9,165.1 316.7,164.5 317.5,164.0 318.4,163.4 319.2,162.8 320.0,162.2 320.8,161.7 321.7,161.1 322.5,160.5 323.3,159.9 324.1,159.4 325.0,158.8 325.8,158.2 326.6,157.7 327.5,157.2 328.3,156.6 329.2,156.1 330.0,155.6 330.9,155.1 331.8,154.5 332.6,154.0 333.5,153.5 334.3,153.0 335.2,152.4 336.0,151.9 336.8,151.3 337.6,150.7 338.4,150.1 339.2,149.5 340.0,148.9 340.8,148.3 341.6,147.7 342.4,147.1 343.2,146.5 344.0,145.9 344.8,145.3 345.6,144.6 346.4,144.0 347.2,143.4 348.0,142.8 348.8,142.2 349.5,141.5 350.3,140.9 351.1,140.2 351.8,139.6 352.6,138.9 353.3,138.3 354.1,137.6 354.8,136.9 355.6,136.3 356.3,135.6 357.1,134.9 357.8,134.2 358.5,133.5 359.3,132.8 360.0,132.2 360.7,131.5 361.4,130.8 362.2,130.1 362.9,129.4 363.6,128.7 364.3,127.9 365.0,127.2 365.7,126.5 366.4,125.8 367.1,125.1 367.8,124.3 368.4,123.6 369.1,122.9 369.8,122.1 370.5,121.4 371.2,120.6 371.8,119.9 372.5,119.1 373.2,118.4 373.8,117.6 374.5,116.9 375.1,116.1 375.8,115.3 376.4,114.6 377.0,113.8 377.7,113.0 378.3,112.2 378.9,111.5 379.6,110.7 380.2,109.9 380.8,109.1 381.4,108.3 382.0,107.5 382.6,106.7 383.2,105.9 383.8,105.1 384.4,104.3 385.0,103.5 385.6,102.7 386.2,101.9 386.8,101.1 387.4,100.2 388.0,99.4 388.5,98.6 389.1,97.8 389.7,97.0 390.3,96.1 390.8,95.3 391.4,94.5 391.9,93.6 392.5,92.8 393.0,92.0 393.6,91.1 394.1,90.3 394.7,89.4 395.2,88.6 395.8,87.7 396.3,86.9 396.8,86.0 397.4,85.2 397.9,84.3 398.4,83.5 398.9,82.6 399.4,81.8 400.0,80.9 400.5,80.0 401.0,79.2 401.5,78.3 402.0,77.4 402.5,76.6 403.0,75.7 403.5,74.8 404.0,74.0 404.5,73.1 404.9,72.2 405.4,71.3 405.9,70.4 406.4,69.6 406.9,68.7 407.3,67.8 407.8,66.9 408.3,66.0 408.7,65.1 409.2,64.2 409.7,63.3 410.1,62.4 410.6,61.6 411.0,60.7 411.5,59.8 411.9,58.9 412.4,58.0 412.8,57.1 413.2,56.2 413.7,55.3 414.1,54.3 414.5,53.4 415.0,52.5 415.4,51.6 415.8,50.7 416.2,49.8 416.6,48.9 417.1,48.0 417.5,47.1 417.9,46.2 418.3,45.2 418.7,44.3 419.1,43.4 419.5,42.5 419.9,41.6 420.3,40.6 420.7,39.7 421.1,38.8 421.5,37.9 421.9,36.9 422.2,36.0 422.6,35.1 423.0,34.2 423.4,33.2 423.8,32.3 424.1,31.4 424.5,30.4 424.9,29.5 425.3,28.6 425.6,27.6 426.0,26.7 426.3,25.8 426.7,24.8 427.1,23.9 427.4,23.0 427.8,22.0 428.1,21.1 428.5,20.1 428.8,19.2 429.2,18.3 429.5,17.3 429.9,16.4 430.2,15.4 430.5,14.5 430.9,13.5 431.2,12.6 431.5,11.7 431.9,10.7 432.2,9.8 432.5,8.8 432.8,7.9 433.2,6.9 433.5,6.0 433.8,5.0 434.1,4.1 434.4,3.1 434.8,2.2 435.1,1.2 435.4,0.2 435.7,-0.7 436.0,-1.7" stroke="#0000ff" stroke-width="1.8"/>
</g>
<g clip-path="url(#cb)" fill="none" stroke-linejoin="round" stroke-linecap="butt">
<path d="M66.6,502.3 67.4,503.0 68.1,503.6 68.9,504.3 69.6,504.9 70.4,505.6 71.1,506.3 71.9,506.9 72.7,507.6 73.4,508.2 74.2,508.9 74.9,509.5 75.7,510.2 76.5,510.8 77.2,511.5 78.0,512.1 78.8,512.8 79.6,513.4 80.3,514.0 81.1,514.7 81.9,515.3 82.7,515.9 83.5,516.5 84.3,517.2 85.0,517.8 85.8,518.4 86.6,519.0 87.4,519.6 88.2,520.3 89.0,520.9 89.8,521.5 90.6,522.1 91.3,522.8 92.1,523.4 92.9,524.0 93.7,524.7 94.5,525.3 95.2,525.9 96.0,526.6 96.8,527.2 97.6,527.8 98.4,528.4 99.2,529.1 100.0,529.7 100.8,530.3 101.5,530.9 102.3,531.5 103.1,532.1 103.9,532.8 104.7,533.4 105.5,534.0 106.3,534.6 107.1,535.2 108.0,535.8 108.8,536.3 109.6,536.9 110.4,537.5 111.2,538.1 112.1,538.6 112.9,539.2 113.7,539.7 114.6,540.3 115.4,540.8 116.3,541.4 117.2,541.9 118.0,542.4 118.9,542.8 119.8,543.3 120.7,543.8 121.6,544.2 122.5,544.7 123.4,545.1 124.3,545.5 125.2,546.0 126.1,546.4 127.0,546.8 127.9,547.3 128.8,547.7 129.7,548.1 130.6,548.5 131.6,548.9 132.5,549.4 133.4,549.8 134.3,550.2 135.2,550.6 136.1,551.0 137.0,551.4 138.0,551.8 138.9,552.3 139.8,552.7 140.7,553.1 141.6,553.5 142.5,553.9 143.5,554.3 144.4,554.7 145.3,555.1 146.2,555.5 147.1,555.9 148.1,556.3 149.0,556.6 150.0,557.0 150.9,557.3 151.8,557.7 152.8,558.0 153.7,558.4 154.7,558.7 155.6,559.0 156.6,559.4 157.5,559.8 158.4,560.1 159.4,560.5 160.3,560.9 161.2,561.3 162.1,561.8 163.0,562.2 163.9,562.7 164.7,563.2 165.6,563.7 166.5,564.1 167.4,564.6 168.3,565.0 169.2,565.5 170.1,565.9 171.1,566.3 172.0,566.7 172.9,567.1 173.8,567.5 174.8,567.8 175.7,568.2 176.6,568.6 177.6,568.9 178.5,569.2 179.5,569.6 180.4,569.9 181.4,570.2 182.3,570.5 183.3,570.8 184.3,571.0 185.2,571.3 186.2,571.6 187.2,571.8 188.2,572.0 189.2,572.2 190.1,572.4 191.1,572.6 192.1,572.8 193.1,573.0 194.1,573.2 195.1,573.3 196.1,573.3 197.1,573.3 198.1,573.2 199.1,573.2 200.1,573.1 201.1,573.0 202.1,572.9 203.1,572.8 204.1,572.6 205.1,572.3 206.0,572.1 207.0,571.8 208.0,571.5 208.9,571.2 209.9,570.9 210.8,570.5 211.7,570.1 212.7,569.8 213.6,569.4 214.5,569.0 215.4,568.6 216.4,568.2 217.3,567.8 218.2,567.4 219.2,567.1 220.1,566.7 221.0,566.3 221.9,565.9 222.9,565.5 223.8,565.1 224.7,564.7 225.7,564.4 226.6,564.1 227.6,563.8 228.5,563.5 229.5,563.2 230.5,562.9 231.5,562.6 232.4,562.4 233.4,562.2 234.4,562.0 235.4,562.0 236.4,561.9 237.4,561.9 238.4,561.8 239.4,561.8 240.4,561.8 241.4,561.8 242.4,561.9 243.4,562.1 244.4,562.4 245.3,562.6 246.3,563.0 247.3,563.3 248.2,563.6 249.2,564.0 250.1,564.3 251.0,564.7 251.9,565.1 252.8,565.5 253.7,566.0 254.6,566.5 255.5,566.9 256.4,567.4 257.3,567.9 258.2,568.4 259.1,568.8 260.0,569.3 260.9,569.7 261.8,570.2 262.7,570.7 263.6,571.1 264.4,571.6 265.3,572.0 266.2,572.5 267.1,572.9 268.1,573.4 269.0,573.8 269.9,574.2 270.8,574.6 271.7,574.9 272.7,575.3 273.6,575.7 274.5,576.1 275.5,576.4 276.4,576.8 277.3,577.1 278.3,577.5 279.2,577.8 280.2,578.2 281.1,578.6 282.0,578.9 283.0,579.3 283.9,579.6 284.9,579.9 285.8,580.2 286.8,580.6 287.7,580.9 288.7,581.1 289.7,581.4 290.6,581.7 291.6,581.9 292.6,582.2 293.6,582.4 294.5,582.7 295.5,582.9 296.5,583.1 297.5,583.4 298.4,583.6 299.4,583.8 300.4,584.1 301.4,584.3 302.3,584.5 303.3,584.7 304.3,585.0 305.3,585.2 306.3,585.4 307.2,585.6 308.2,585.8 309.2,586.0 310.2,586.2 311.2,586.4 312.2,586.6 313.1,586.8 314.1,587.0 315.1,587.2 316.1,587.4 317.1,587.6 318.1,587.9 319.0,588.1 320.0,588.3 321.0,588.6 322.0,588.8 322.9,589.1 323.9,589.3 324.9,589.6 325.8,589.8 326.8,590.1 327.8,590.3 328.8,590.5 329.7,590.8 330.7,591.0 331.7,591.3 332.7,591.5 333.6,591.8 334.6,592.0 335.6,592.3 336.6,592.5 337.5,592.7 338.5,593.0 339.5,593.2 340.5,593.4 341.4,593.7 342.4,593.9 343.4,594.1 344.4,594.3 345.4,594.6 346.3,594.8 347.3,595.0 348.3,595.2 349.3,595.4 350.3,595.6 351.2,595.8 352.2,596.0 353.2,596.2 354.2,596.4 355.2,596.6 356.2,596.8 357.1,597.0 358.1,597.2 359.1,597.5 360.1,597.7 361.0,597.9 362.0,598.2 363.0,598.4 364.0,598.7 364.9,598.9 365.9,599.1 366.9,599.4 367.9,599.6 368.9,599.7 369.9,599.9 370.8,600.1 371.8,600.3 372.8,600.5 373.8,600.6 374.8,600.8" stroke="#ff0000" stroke-width="1.6"/>
<path d="M374.8,600.8 375.8,601.0 376.8,601.1 377.8,601.3 378.8,601.5 379.7,601.7 380.7,601.9 381.7,602.1 382.7,602.3 383.7,602.5 384.7,602.7 385.7,602.9 386.7,603.0 387.6,603.2 388.6,603.3 389.6,603.4 390.6,603.5 391.6,603.6 392.6,603.7 393.6,603.7 394.6,603.8 395.6,603.9 396.6,603.9 397.6,604.0 398.7,604.0 399.7,604.0 400.7,604.0 401.7,603.9 402.7,603.9 403.7,603.8 404.7,603.8 405.7,603.7 406.7,603.7 407.7,603.7 408.7,603.8 409.7,603.9 410.7,604.1 411.6,604.3 412.6,604.5 413.6,604.7 414.6,604.9 415.6,605.0 416.6,605.2 417.6,605.3 418.6,605.4 419.6,605.6 420.6,605.7 421.6,605.8 422.6,605.9 423.6,606.0 424.6,606.1 425.6,606.2 426.6,606.2 427.6,606.3 428.6,606.4 429.6,606.4 430.6,606.5 431.6,606.6 432.6,606.7 433.6,606.8 434.6,606.9 435.6,607.0 436.6,607.1 437.6,607.2 438.6,607.3 439.6,607.3 440.6,607.4 441.6,607.5 442.6,607.5 443.6,607.6 444.6,607.6 445.6,607.7 446.6,607.8 447.6,607.8" stroke="#ff0000" stroke-width="1.3"/>
<g fill="#ff0000" stroke="none"><ellipse cx="69.62" cy="504.94" rx="2.5" ry="1.9"/><ellipse cx="75.65" cy="510.14" rx="2.5" ry="1.9"/><ellipse cx="81.69" cy="515.13" rx="2.5" ry="1.9"/><ellipse cx="87.72" cy="519.89" rx="2.5" ry="1.9"/><ellipse cx="93.76" cy="524.73" rx="2.5" ry="1.9"/><ellipse cx="99.79" cy="529.53" rx="2.5" ry="1.9"/><ellipse cx="105.83" cy="534.20" rx="2.5" ry="1.9"/><ellipse cx="111.86" cy="538.49" rx="2.5" ry="1.9"/><ellipse cx="117.90" cy="542.30" rx="2.5" ry="1.9"/><ellipse cx="123.93" cy="545.37" rx="2.5" ry="1.9"/><ellipse cx="129.97" cy="548.21" rx="2.5" ry="1.9"/><ellipse cx="136.00" cy="550.96" rx="2.5" ry="1.9"/><ellipse cx="142.04" cy="553.69" rx="2.5" ry="1.9"/><ellipse cx="148.07" cy="556.27" rx="2.5" ry="1.9"/><ellipse cx="154.11" cy="558.49" rx="2.5" ry="1.9"/><ellipse cx="160.14" cy="560.86" rx="2.5" ry="1.9"/><ellipse cx="166.18" cy="563.95" rx="2.5" ry="1.9"/><ellipse cx="172.21" cy="566.78" rx="2.5" ry="1.9"/><ellipse cx="178.25" cy="569.15" rx="2.5" ry="1.9"/><ellipse cx="184.28" cy="571.05" rx="2.5" ry="1.9"/><ellipse cx="190.32" cy="572.46" rx="2.5" ry="1.9"/><ellipse cx="196.35" cy="573.30" rx="2.5" ry="1.9"/><ellipse cx="202.39" cy="572.86" rx="2.5" ry="1.9"/><ellipse cx="208.42" cy="571.34" rx="2.5" ry="1.9"/><ellipse cx="214.46" cy="569.00" rx="2.5" ry="1.9"/><ellipse cx="220.49" cy="566.50" rx="2.5" ry="1.9"/><ellipse cx="226.53" cy="564.11" rx="2.5" ry="1.9"/><ellipse cx="232.56" cy="562.33" rx="2.5" ry="1.9"/><ellipse cx="238.60" cy="561.83" rx="2.5" ry="1.9"/><ellipse cx="244.63" cy="562.43" rx="2.5" ry="1.9"/><ellipse cx="250.67" cy="564.51" rx="2.5" ry="1.9"/><ellipse cx="256.70" cy="567.59" rx="2.5" ry="1.9"/><ellipse cx="262.74" cy="570.71" rx="2.5" ry="1.9"/><ellipse cx="268.77" cy="573.68" rx="2.5" ry="1.9"/><ellipse cx="274.81" cy="576.17" rx="2.5" ry="1.9"/><ellipse cx="280.84" cy="578.46" rx="2.5" ry="1.9"/><ellipse cx="286.88" cy="580.59" rx="2.5" ry="1.9"/><ellipse cx="292.91" cy="582.26" rx="2.5" ry="1.9"/><ellipse cx="298.95" cy="583.72" rx="2.5" ry="1.9"/><ellipse cx="304.98" cy="585.11" rx="2.5" ry="1.9"/><ellipse cx="311.02" cy="586.39" rx="2.5" ry="1.9"/><ellipse cx="317.05" cy="587.63" rx="2.5" ry="1.9"/><ellipse cx="323.09" cy="589.10" rx="2.5" ry="1.9"/><ellipse cx="329.12" cy="590.63" rx="2.5" ry="1.9"/><ellipse cx="335.16" cy="592.16" rx="2.5" ry="1.9"/><ellipse cx="341.19" cy="593.61" rx="2.5" ry="1.9"/><ellipse cx="347.23" cy="594.97" rx="2.5" ry="1.9"/><ellipse cx="353.26" cy="596.23" rx="2.5" ry="1.9"/><ellipse cx="359.30" cy="597.52" rx="2.5" ry="1.9"/><ellipse cx="365.33" cy="599.00" rx="2.5" ry="1.9"/><ellipse cx="371.37" cy="600.20" rx="2.5" ry="1.9"/></g>
<path d="M66.6,504.4 67.3,505.1 68.0,505.8 68.8,506.5 69.5,507.2 70.2,507.9 71.0,508.5 71.7,509.2 72.4,509.9 73.2,510.6 73.9,511.2 74.7,511.9 75.4,512.6 76.2,513.2 76.9,513.9 77.7,514.6 78.4,515.2 79.2,515.9 79.9,516.6 80.7,517.2 81.4,517.9 82.2,518.6 82.9,519.3 83.7,519.9 84.4,520.6 85.2,521.3 85.9,521.9 86.7,522.6 87.4,523.3 88.1,523.9 88.9,524.6 89.6,525.3 90.4,525.9 91.1,526.6 91.9,527.3 92.6,528.0 93.4,528.6 94.1,529.3 94.9,530.0 95.6,530.6 96.4,531.3 97.1,531.9 97.9,532.6 98.7,533.3 99.4,533.9 100.2,534.6 100.9,535.2 101.7,535.9 102.4,536.6 103.2,537.2 104.0,537.9 104.7,538.5 105.5,539.2 106.3,539.8 107.1,540.4 107.9,541.0 108.7,541.6 109.5,542.1 110.4,542.7 111.2,543.2 112.1,543.8 112.9,544.3 113.8,544.8 114.7,545.3 115.5,545.8 116.4,546.3 117.3,546.7 118.2,547.2 119.1,547.6 120.0,548.1 120.9,548.5 121.8,548.9 122.7,549.4 123.6,549.8 124.5,550.2 125.4,550.7 126.3,551.1 127.2,551.6 128.1,552.1 129.0,552.6 129.8,553.1 130.7,553.6 131.6,554.2 132.4,554.7 133.3,555.2 134.2,555.7 135.1,556.2 135.9,556.6 136.8,557.0 137.8,557.4 138.7,557.8 139.6,558.1 140.6,558.4 141.5,558.7 142.5,559.0 143.5,559.3 144.4,559.5 145.4,559.8 146.4,560.1 147.4,560.3 148.3,560.6 149.3,560.8 150.3,561.1 151.2,561.4 152.1,561.8 153.0,562.2 153.9,562.7 154.8,563.1 155.7,563.6 156.6,564.1 157.5,564.6 158.4,565.0 159.3,565.5 160.2,565.9 161.1,566.4 162.0,566.9 162.9,567.3 163.7,567.8 164.6,568.3 165.5,568.7 166.4,569.2 167.3,569.6 168.2,570.0 169.1,570.4 170.1,570.8 171.0,571.2 171.9,571.6 172.9,571.9 173.8,572.2 174.8,572.6 175.7,572.9 176.7,573.2 177.6,573.5 178.6,573.9 179.5,574.2 180.5,574.5 181.4,574.7 182.4,575.0 183.4,575.3 184.3,575.6 185.3,575.8 186.3,576.1 187.2,576.4 188.2,576.7 189.2,577.0 190.1,577.3 191.0,577.7 192.0,578.1 192.9,578.5 193.9,578.9 194.8,579.2 195.7,579.6 196.7,579.8 197.7,580.1 198.6,580.3 199.6,580.4 200.6,580.6 201.6,580.7 202.6,580.8 203.6,580.9 204.6,581.0 205.6,581.1 206.6,581.2 207.6,581.2 208.6,581.2 209.6,581.2 210.6,581.2 211.6,581.2 212.6,581.2 213.6,581.2 214.6,581.2 215.6,581.2 216.6,581.2 217.6,581.2 218.6,581.3 219.6,581.4 220.6,581.6 221.6,581.8 222.6,582.0 223.6,582.1 224.6,582.3 225.6,582.5 226.6,582.7 227.6,582.9 228.6,583.0 229.5,583.0 230.5,582.9 231.5,582.6 232.5,582.4 233.4,582.0 234.3,581.6 235.2,581.1 236.1,580.5 236.8,579.9 237.5,579.2 238.2,578.4 238.8,577.6 239.4,576.8 240.0,576.0 240.5,575.1 241.1,574.3 241.6,573.4 242.0,572.5 242.5,571.6 243.0,570.7 243.4,569.8 243.9,569.0 244.4,568.1 244.8,567.2 245.3,566.3 245.8,565.4 246.2,564.5 246.7,563.6 247.1,562.7 247.5,561.8 247.9,560.9 248.3,559.9 248.6,559.0 249.0,558.1 249.4,557.1 249.7,556.2 250.1,555.3 250.4,554.3 250.8,553.4 251.2,552.5 251.6,551.6 252.0,550.6 252.5,549.7 252.9,548.8 253.3,547.9 253.8,547.0 254.3,546.1 254.7,545.3 255.2,544.4 255.7,543.5 256.2,542.6 256.7,541.7 257.3,540.9 257.8,540.0 258.4,539.2 259.0,538.4 259.6,537.7 260.3,536.9 260.9,536.1 261.7,535.4 262.4,534.7 263.2,534.0 264.0,533.4 264.8,532.9 265.7,532.5 266.6,532.1 267.6,531.7 268.5,531.5 269.5,531.3 270.5,531.2 271.5,531.2 272.5,531.3 273.5,531.5 274.5,531.8 275.4,532.1 276.4,532.5 277.3,532.9 278.2,533.4 279.0,534.0 279.7,534.6 280.5,535.3 281.2,536.0 281.9,536.7 282.7,537.4 283.4,538.1 284.1,538.8 284.8,539.5 285.5,540.3 286.2,541.0 286.9,541.7 287.5,542.5 288.2,543.2 288.8,544.0 289.4,544.8 290.0,545.6 290.5,546.5 291.1,547.3 291.7,548.1 292.2,549.0 292.8,549.8 293.3,550.7 293.9,551.5 294.4,552.3 295.0,553.2 295.5,554.0 296.1,554.9 296.6,555.7 297.1,556.6 297.7,557.4 298.2,558.2 298.8,559.1 299.4,559.9 299.9,560.7 300.5,561.5 301.1,562.3 301.7,563.1 302.3,563.9 302.9,564.7 303.6,565.5 304.2,566.3 304.8,567.1 305.4,567.9 306.0,568.7 306.6,569.5 307.2,570.4 307.8,571.2 308.4,572.0 309.0,572.8 309.6,573.6 310.2,574.3 310.9,575.1 311.6,575.8 312.3,576.5 313.0,577.2 313.8,577.9 314.5,578.5 315.3,579.2 316.1,579.8 316.9,580.4 317.7,581.0 318.5,581.6 319.3,582.2 320.2,582.7 321.0,583.3 321.8,583.9 322.7,584.4 323.5,584.9 324.4,585.4 325.3,585.9 326.1,586.4 327.0,586.9 327.9,587.4 328.8,587.8 329.7,588.3 330.6,588.8 331.4,589.3 332.3,589.8 333.2,590.3 334.0,590.8 334.9,591.3 335.8,591.8 336.7,592.3 337.6,592.7 338.5,593.1 339.4,593.5 340.3,593.9 341.3,594.3 342.2,594.6 343.1,595.0 344.1,595.3 345.1,595.6 346.0,595.9 347.0,596.2 348.0,596.4 348.9,596.7 349.9,596.9 350.9,597.1 351.9,597.3 352.8,597.5 353.8,597.7 354.8,597.9 355.8,598.0 356.8,598.2 357.8,598.4 358.8,598.5 359.8,598.7 360.8,598.8 361.8,599.0 362.8,599.1 363.7,599.3 364.7,599.4 365.7,599.5 366.7,599.7 367.7,599.8 368.7,600.0 369.7,600.1 370.7,600.3 371.7,600.4 372.7,600.6 373.7,600.7 374.7,600.9 375.7,601.0 376.6,601.2 377.6,601.4 378.6,601.6 379.6,601.8 380.6,602.0 381.6,602.2 382.6,602.4 383.5,602.6 384.5,602.8 385.5,603.0 386.5,603.2 387.5,603.4 388.5,603.5 389.5,603.6 390.5,603.7 391.5,603.7 392.5,603.8 393.5,603.8 394.5,603.9 395.5,603.9 396.5,604.0 397.5,604.0 398.5,604.0 399.5,604.0 400.5,604.0 401.5,603.9 402.5,603.9 403.5,603.8 404.5,603.7 405.5,603.6 406.5,603.6 407.5,603.6 408.5,603.7 409.5,603.8 410.5,604.0 411.5,604.2 412.4,604.5 413.4,604.7 414.4,604.9 415.4,605.0 416.4,605.1 417.4,605.3 418.4,605.4 419.4,605.5 420.4,605.7 421.4,605.8 422.4,605.9 423.4,606.0 424.4,606.1 425.4,606.1 426.4,606.2 427.4,606.3 428.4,606.4 429.4,606.4 430.4,606.5 431.4,606.6 432.4,606.7 433.4,606.8 434.4,606.9 435.4,607.0 436.4,607.1 437.4,607.2 438.4,607.2 439.4,607.3 440.4,607.4 441.4,607.5 442.4,607.5 443.4,607.6 444.4,607.7 445.4,607.7 446.4,607.8 447.4,607.8 448.4,607.8 449.4,607.8 450.4,607.9 451.4,607.9 452.4,607.9" stroke="#00ff00" stroke-width="1.8"/>
<path d="M240.0,573.0 240.5,572.1 241.0,571.2 241.5,570.4 242.0,569.5 242.5,568.6 242.9,567.7 243.4,566.8 243.8,565.9 244.3,565.0 244.7,564.1 245.1,563.1 245.5,562.2 245.9,561.3 246.3,560.3 246.7,559.4 247.0,558.5 247.4,557.5 247.8,556.6 248.2,555.7 248.6,554.7 249.0,553.8 249.4,552.9 249.8,552.0 250.2,551.0 250.6,550.1 251.0,549.2 251.4,548.2 251.8,547.3 252.2,546.4 252.6,545.5 253.0,544.6 253.5,543.6 253.9,542.7 254.3,541.8 254.7,540.8 255.1,539.9 255.5,539.0 256.0,538.0 256.4,537.1 256.9,536.2 257.3,535.3 257.8,534.4 258.3,533.6 258.9,532.8 259.4,532.0 260.1,531.2 260.7,530.3 261.4,529.5 262.1,528.8 262.9,528.1 263.7,527.5 264.5,526.9 265.3,526.5 266.3,526.1 267.3,525.7 268.2,525.6 269.2,525.5 270.3,525.4 271.3,525.4 272.3,525.6 273.3,525.8 274.2,526.1 275.2,526.4 276.2,526.7 277.1,527.2 278.0,527.7 278.7,528.2 279.4,528.9 280.1,529.6 280.7,530.4 281.3,531.2 281.9,532.1 282.5,533.0 283.0,533.9 283.6,534.8 284.2,535.6 284.7,536.4 285.3,537.3 285.8,538.1 286.4,539.0 287.0,539.8 287.5,540.7 288.1,541.5 288.7,542.3 289.3,543.1 289.9,543.9 290.6,544.7 291.2,545.4 291.9,546.2 292.5,547.0 293.1,547.8 293.8,548.6 294.4,549.4 295.0,550.2 295.6,551.0 296.2,551.8 296.8,552.6 297.4,553.4 298.1,554.2 298.7,555.0 299.3,555.8 299.9,556.6 300.5,557.5 301.1,558.3 301.7,559.1 302.3,559.9 302.9,560.7 303.5,561.5 304.1,562.3 304.7,563.1 305.3,563.9 305.9,564.7 306.5,565.5 307.2,566.3 307.8,567.1 308.4,567.9 309.1,568.7 309.7,569.5 310.4,570.2 311.0,571.0 311.7,571.7 312.4,572.4 313.1,573.1 313.9,573.8 314.6,574.5 315.4,575.2 316.1,575.9 316.9,576.5 317.7,577.1 318.5,577.8 319.3,578.4 320.1,579.0 320.9,579.6 321.8,580.2 322.6,580.7 323.4,581.3 324.3,581.8 325.1,582.4 326.0,582.9 326.9,583.4 327.8,583.9 328.6,584.4 329.5,584.9 330.4,585.4 331.2,586.0 332.1,586.5 332.9,587.1 333.8,587.6 334.6,588.2 335.5,588.7 336.4,589.2 337.2,589.7 338.1,590.2 339.0,590.7 339.9,591.2 340.8,591.6 341.7,592.1 342.6,592.6 343.5,593.0 344.4,593.4 345.3,593.8 346.3,594.2 347.2,594.6 348.2,595.0 349.1,595.3 350.1,595.6 351.0,595.9 352.0,596.2 353.0,596.4 353.9,596.7 354.9,597.0 355.9,597.2 356.9,597.4 357.9,597.6" stroke="#00ff00" stroke-width="1.5" stroke-dasharray="3.3,3.2"/>
<path d="M241.5,578.0 242.0,577.1 242.5,576.2 243.0,575.3 243.4,574.5 243.9,573.6 244.4,572.7 244.8,571.8 245.3,570.9 245.8,570.0 246.2,569.1 246.7,568.2 247.1,567.3 247.5,566.3 248.0,565.4 248.4,564.5 248.8,563.6 249.2,562.7 249.7,561.8 250.1,560.9 250.5,559.9 251.0,559.0 251.4,558.1 251.8,557.2 252.2,556.3 252.6,555.3 253.1,554.4 253.5,553.5 254.0,552.6 254.4,551.7 254.9,550.8 255.4,550.0 255.9,549.1 256.4,548.2 257.0,547.4 257.6,546.5 258.1,545.7 258.7,544.9 259.3,544.0 260.0,543.3 260.6,542.5 261.3,541.8 262.0,541.1 262.7,540.3 263.5,539.6 264.3,539.0 265.1,538.4 265.9,537.8 266.8,537.4 267.7,536.9 268.7,536.5 269.6,536.2 270.6,536.1 271.6,536.0 272.6,536.0 273.7,536.0 274.7,536.1 275.7,536.4 276.6,536.6 277.6,537.0 278.5,537.4 279.4,537.9 280.2,538.4 281.0,539.0 281.8,539.6 282.5,540.3 283.3,541.1 284.0,541.8 284.6,542.6 285.3,543.4 286.0,544.1 286.6,544.9 287.2,545.7 287.8,546.5 288.4,547.4 288.9,548.2 289.5,549.0 290.1,549.9 290.6,550.7 291.1,551.6 291.7,552.4 292.2,553.3 292.7,554.2 293.3,555.0 293.8,555.9 294.3,556.7 294.9,557.6 295.4,558.4 296.0,559.3 296.5,560.1 297.1,561.0 297.7,561.8 298.2,562.6 298.8,563.5 299.4,564.3 299.9,565.1 300.5,566.0 301.1,566.8 301.7,567.6 302.3,568.4 302.9,569.2 303.5,570.0 304.1,570.8 304.7,571.6 305.3,572.4 306.0,573.2 306.6,574.0 307.2,574.8 307.9,575.6 308.5,576.4 309.2,577.1 309.9,577.9 310.6,578.6 311.3,579.3 312.0,580.0 312.8,580.7 313.5,581.3 314.3,582.0 315.1,582.6 315.9,583.3 316.7,583.9 317.5,584.4 318.4,585.0 319.2,585.6 320.1,586.1 320.9,586.6 321.8,587.1 322.7,587.6 323.6,588.1 324.5,588.5 325.4,588.9 326.3,589.3 327.2,589.8 328.2,590.2 329.1,590.6 330.0,591.0 330.9,591.4 331.8,591.9 332.7,592.3 333.6,592.8 334.6,593.2 335.5,593.7 336.4,594.1 337.3,594.5 338.2,594.9 339.2,595.2 340.1,595.5 341.1,595.9 342.1,596.2 343.0,596.5 344.0,596.8 345.0,597.0 346.0,597.3 346.9,597.5 347.9,597.7 348.9,597.9 349.9,598.1 350.9,598.3 351.9,598.4 352.9,598.6 353.9,598.8 354.9,598.9 355.9,599.0 356.9,599.1 357.9,599.2" stroke="#00ff00" stroke-width="1.5" stroke-dasharray="3.3,3.2"/>
<path d="M67.3,503.7 68.0,504.4 68.7,505.1 69.5,505.8 70.2,506.4 70.9,507.1 71.6,507.8 72.4,508.5 73.1,509.2 73.9,509.8 74.6,510.5 75.3,511.2 76.1,511.8 76.8,512.5 77.6,513.2 78.4,513.8 79.1,514.5 79.9,515.2 80.6,515.8 81.4,516.5 82.1,517.2 82.8,517.8 83.6,518.5 84.3,519.2 85.1,519.8 85.8,520.5 86.6,521.2 87.3,521.9 88.1,522.5 88.8,523.2 89.6,523.9 90.3,524.5 91.1,525.2 91.8,525.9 92.6,526.5 93.3,527.2 94.1,527.9 94.8,528.5 95.5,529.2 96.3,529.9 97.1,530.5 97.8,531.2 98.6,531.8 99.3,532.5 100.1,533.2 100.8,533.8 101.6,534.5 102.3,535.2 103.1,535.8 103.9,536.5 104.6,537.1 105.4,537.8 106.1,538.4 106.9,539.0 107.7,539.6 108.5,540.2 109.3,540.8 110.1,541.3 110.9,541.9 111.7,542.4 112.6,542.9 113.4,543.4 114.3,543.9 115.1,544.4 116.0,544.9 116.9,545.4 117.8,545.8 118.6,546.3 119.5,546.7 120.4,547.2 121.3,547.6 122.2,548.0 123.1,548.5 124.0,548.9 125.0,549.4 125.9,549.8 126.8,550.3 127.7,550.7 128.6,551.2 129.5,551.7 130.3,552.3 131.2,552.8 132.1,553.3 132.9,553.8 133.8,554.3 134.7,554.8 135.5,555.3 136.4,555.7 137.3,556.1 138.1,556.5 139.0,556.8 139.9,557.2 140.9,557.5 141.8,557.8 142.8,558.0 143.7,558.3 144.7,558.6 145.7,558.8 146.6,559.1 147.6,559.3 148.6,559.6 149.6,559.8 150.6,560.1 151.5,560.5 152.5,560.9 153.4,561.3 154.4,561.8 155.3,562.2 156.2,562.7 157.1,563.2 158.0,563.7 158.8,564.1 159.7,564.6 160.6,565.0 161.5,565.5 162.4,566.0 163.3,566.4 164.2,566.9 165.1,567.4 166.0,567.8 166.9,568.3 167.8,568.7 168.6,569.1 169.5,569.5 170.4,569.9 171.4,570.3 172.3,570.6 173.2,571.0 174.2,571.3 175.1,571.6 176.0,572.0 177.0,572.3 177.9,572.6 178.9,572.9 179.8,573.2 180.8,573.5 181.7,573.8 182.7,574.1 183.6,574.3 184.6,574.6 185.6,574.9 186.6,575.1 187.5,575.4 188.5,575.7 189.5,576.0 190.5,576.4 191.4,576.8 192.4,577.2 193.3,577.6 194.2,577.9 195.1,578.3 196.1,578.6 197.0,578.9 197.9,579.1 198.8,579.3 199.8,579.4 200.7,579.6 201.7,579.7 202.7,579.8 203.7,580.0 204.7,580.0 205.7,580.1 206.6,580.2 207.6,580.2 208.6,580.2 209.6,580.2 210.6,580.2 211.6,580.2 212.6,580.2 213.6,580.2 214.6,580.2 215.6,580.2 216.6,580.2 217.7,580.2 218.7,580.3 219.8,580.4 220.8,580.6 221.8,580.8 222.8,581.0 223.8,581.1 224.8,581.3 225.8,581.5 226.7,581.7 227.7,581.9 228.6,582.0 229.5,582.0 230.4,581.9 231.3,581.7 232.2,581.4 233.1,581.1 233.9,580.7 234.7,580.2 235.5,579.7 236.2,579.1 236.8,578.5 237.4,577.8 238.0,577.0 238.6,576.2" stroke="#00ff00" stroke-width="1.2" stroke-dasharray="3.3,3.2"/>
<path d="M65.9,505.1 66.6,505.8 67.4,506.5 68.1,507.2 68.8,507.9 69.5,508.6 70.3,509.3 71.0,510.0 71.8,510.6 72.5,511.3 73.3,512.0 74.0,512.7 74.8,513.3 75.5,514.0 76.3,514.7 77.0,515.3 77.8,516.0 78.5,516.6 79.3,517.3 80.0,518.0 80.8,518.7 81.5,519.3 82.3,520.0 83.0,520.7 83.7,521.3 84.5,522.0 85.2,522.7 86.0,523.3 86.7,524.0 87.5,524.7 88.2,525.4 89.0,526.0 89.7,526.7 90.5,527.4 91.2,528.0 92.0,528.7 92.7,529.4 93.5,530.0 94.2,530.7 95.0,531.4 95.7,532.0 96.5,532.7 97.2,533.4 98.0,534.0 98.8,534.7 99.5,535.3 100.3,536.0 101.0,536.7 101.8,537.3 102.6,538.0 103.3,538.6 104.1,539.3 104.9,539.9 105.7,540.6 106.5,541.2 107.3,541.8 108.1,542.4 109.0,543.0 109.8,543.5 110.7,544.1 111.5,544.6 112.4,545.2 113.3,545.7 114.2,546.2 115.0,546.7 115.9,547.2 116.8,547.6 117.7,548.1 118.6,548.5 119.6,549.0 120.5,549.4 121.4,549.8 122.3,550.3 123.2,550.7 124.1,551.1 125.0,551.6 125.9,552.0 126.7,552.5 127.6,553.0 128.4,553.5 129.3,554.0 130.2,554.5 131.0,555.0 131.9,555.5 132.8,556.1 133.7,556.6 134.6,557.0 135.5,557.5 136.4,557.9 137.4,558.4 138.3,558.7 139.3,559.1 140.3,559.4 141.2,559.7 142.2,560.0 143.2,560.2 144.2,560.5 145.1,560.8 146.1,561.0 147.1,561.3 148.1,561.5 149.0,561.8 149.9,562.0 150.8,562.4 151.7,562.7 152.6,563.1 153.5,563.6 154.4,564.0 155.2,564.5 156.1,565.0 157.0,565.4 157.9,565.9 158.8,566.4 159.7,566.8 160.6,567.3 161.5,567.7 162.4,568.2 163.3,568.7 164.2,569.1 165.1,569.6 166.0,570.1 166.9,570.5 167.8,570.9 168.7,571.4 169.7,571.7 170.6,572.1 171.6,572.5 172.5,572.8 173.5,573.2 174.4,573.5 175.4,573.9 176.3,574.2 177.3,574.5 178.3,574.8 179.2,575.1 180.2,575.4 181.2,575.7 182.1,576.0 183.1,576.3 184.1,576.5 185.0,576.8 186.0,577.1 187.0,577.3 187.9,577.6 188.8,577.9 189.7,578.3 190.7,578.6 191.6,579.0 192.5,579.4 193.5,579.8 194.5,580.2 195.4,580.5 196.4,580.8 197.4,581.1 198.5,581.2 199.5,581.4 200.4,581.5 201.5,581.7 202.5,581.8 203.5,581.9 204.5,582.0 205.5,582.1 206.6,582.2 207.6,582.2 208.6,582.2 209.6,582.2 210.6,582.2 211.6,582.2 212.6,582.2 213.6,582.2 214.6,582.2 215.6,582.2 216.6,582.2 217.6,582.2 218.5,582.2 219.5,582.4 220.4,582.5 221.4,582.7 222.4,582.9 223.4,583.1 224.4,583.3 225.4,583.5 226.4,583.7 227.4,583.9 228.5,584.0 229.6,584.0 230.7,583.9 231.8,583.6 232.8,583.3 233.8,583.0 234.8,582.5 235.8,581.9 236.7,581.3 237.5,580.6 238.3,579.9 239.0,579.1 239.6,578.2 240.3,577.4" stroke="#00ff00" stroke-width="1.2" stroke-dasharray="3.3,3.2"/>
<path d="M357.9,597.9 358.9,598.0 359.8,598.2 360.8,598.3 361.8,598.5 362.8,598.6 363.8,598.8 364.8,598.9 365.8,599.0 366.8,599.2 367.8,599.3 368.8,599.5 369.8,599.6 370.8,599.8 371.8,599.9 372.8,600.1 373.7,600.2 374.7,600.4 375.7,600.6 376.7,600.7 377.7,600.9 378.7,601.1 379.7,601.3 380.7,601.5 381.7,601.7 382.7,601.9 383.6,602.1 384.6,602.3 385.6,602.5 386.6,602.7 387.6,602.9 388.5,603.0 389.5,603.1 390.5,603.2 391.5,603.2 392.5,603.3 393.5,603.3 394.5,603.4 395.5,603.4 396.5,603.5 397.5,603.5 398.5,603.5 399.5,603.5 400.5,603.5 401.5,603.4 402.5,603.4 403.5,603.3 404.5,603.2 405.5,603.1 406.5,603.1 407.5,603.1 408.5,603.2 409.6,603.3 410.6,603.5 411.6,603.8 412.6,604.0 413.5,604.2 414.5,604.4 415.5,604.5 416.5,604.7 417.5,604.8 418.5,604.9 419.5,605.1 420.4,605.2 421.4,605.3 422.4,605.4 423.4,605.5 424.4,605.6 425.4,605.6 426.4,605.7 427.4,605.8 428.4,605.9 429.4,605.9 430.4,606.0 431.4,606.1 432.4,606.2 433.4,606.3 434.4,606.4 435.4,606.5 436.4,606.6 437.4,606.7 438.4,606.7 439.4,606.8 440.4,606.9 441.4,607.0 442.4,607.0 443.4,607.1 444.4,607.2 445.4,607.2 446.4,607.3 447.4,607.3 448.4,607.3 449.4,607.3 450.4,607.4 451.4,607.4 452.4,607.4" stroke="#00ff00" stroke-width="1.2" stroke-dasharray="3.3,3.2"/>
<path d="M66.6,506.2 67.3,506.9 68.0,507.6 68.7,508.3 69.4,509.0 70.1,509.7 70.8,510.4 71.6,511.2 72.3,511.9 73.0,512.6 73.7,513.3 74.4,514.0 75.1,514.7 75.8,515.4 76.5,516.2 77.2,516.9 77.9,517.6 78.6,518.3 79.3,519.0 80.0,519.7 80.7,520.4 81.4,521.1 82.1,521.8 82.8,522.5 83.5,523.3 84.3,524.0 85.0,524.7 85.7,525.4 86.4,526.1 87.1,526.7 87.9,527.4 88.6,528.1 89.4,528.7 90.1,529.4 90.9,530.0 91.7,530.7 92.4,531.3 93.2,532.0 94.0,532.6 94.8,533.2 95.6,533.8 96.4,534.4 97.2,535.0 98.0,535.5 98.9,536.1 99.7,536.6 100.6,537.1 101.4,537.6 102.3,538.1 103.2,538.6 104.1,539.0 105.0,539.5 105.9,540.0 106.8,540.4 107.7,540.9 108.6,541.3 109.5,541.8 110.3,542.3 111.2,542.7 112.1,543.2 113.0,543.6 113.9,544.1 114.8,544.5 115.7,545.0 116.6,545.4 117.5,545.8 118.4,546.3 119.3,546.7 120.2,547.1 121.1,547.6 122.0,548.0 122.9,548.5 123.8,548.9 124.7,549.4 125.6,549.8 126.5,550.3 127.3,550.8 128.2,551.3 129.0,551.9 129.9,552.4 130.7,553.0 131.5,553.5 132.4,554.1 133.2,554.6 134.0,555.2 134.9,555.8 135.7,556.3 136.6,556.8 137.4,557.4 138.3,557.8 139.2,558.3 140.0,558.8 140.9,559.3 141.8,559.7 142.7,560.2 143.6,560.6 144.5,561.1 145.4,561.5 146.3,561.9 147.2,562.3 148.2,562.7 149.1,563.1 150.0,563.5 150.9,563.9 151.9,564.3 152.8,564.7 153.7,565.1 154.6,565.4 155.5,565.8 156.5,566.2 157.4,566.7 158.3,567.1 159.2,567.5 160.1,568.0 160.9,568.5 161.8,569.0 162.6,569.5 163.5,570.1 164.3,570.6 165.2,571.1 166.1,571.6 166.9,572.2 167.8,572.7 168.7,573.1 169.6,573.6 170.5,573.9 171.4,574.3 172.4,574.7 173.3,574.9 174.3,575.1 175.3,575.2 176.3,575.3 177.3,575.4 178.3,575.4 179.3,575.4 180.3,575.5 181.3,575.5 182.3,575.6 183.3,575.7 184.3,575.7 185.3,575.8 186.3,575.9 187.3,576.1 188.2,576.4 189.2,576.7 190.1,577.1 191.0,577.6 192.0,577.9 192.9,578.3 193.8,578.7 194.7,579.1 195.7,579.5 196.6,579.9 197.5,580.2 198.5,580.4 199.5,580.6 200.4,580.8 201.4,581.0 202.4,581.2 203.4,581.3 204.4,581.4 205.4,581.6 206.4,581.7 207.4,581.8 208.4,581.8 209.4,581.9 210.4,581.9 211.5,582.0 212.5,582.0 213.5,582.0 214.5,582.1 215.5,582.1 216.5,582.2 217.4,582.3 218.4,582.4 219.3,582.8 220.2,583.2 221.1,583.7 222.0,584.2 222.9,584.7 223.8,585.2 224.7,585.7 225.6,586.1 226.4,586.6 227.3,587.1 228.2,587.5 229.2,587.9 230.1,588.2 231.1,588.6 232.0,588.8 233.0,588.9 234.1,588.9 235.1,588.7 235.9,588.5 236.6,587.9 237.1,586.9 237.5,585.9 237.8,584.9 238.1,584.0 238.3,583.0 238.5,582.0 238.7,581.0 238.8,580.0 239.0,579.0 239.2,578.0 239.3,577.0 239.4,576.0 239.6,575.0 239.7,574.1 239.8,573.1 239.9,572.1 240.1,571.1 240.2,570.1 240.3,569.1 240.4,568.1 240.5,567.1 240.6,566.1 240.8,565.1 240.9,564.1 241.0,563.1 241.1,562.1 241.2,561.1 241.3,560.1 241.4,559.1 241.6,558.1 241.7,557.1 241.8,556.1 241.9,555.1 242.0,554.2 242.1,553.2 242.2,552.2 242.3,551.2 242.4,550.2 242.5,549.2 242.6,548.2 242.8,547.2 242.9,546.2 243.0,545.2 243.1,544.2 243.2,543.2 243.3,542.2 243.4,541.2 243.5,540.2 243.6,539.2 243.6,538.2 243.7,537.2 243.8,536.2 243.9,535.2 244.0,534.2 244.0,533.2 244.1,532.2 244.2,531.2 244.2,530.2 244.3,529.2 244.4,528.2 244.4,527.2 244.5,526.2 244.6,525.2 244.6,524.2 244.7,523.2 244.8,522.2 244.8,521.2 244.9,520.2 245.0,519.2 245.0,518.2 245.1,517.2 245.2,516.2 245.3,515.2 245.3,514.2 245.4,513.2 245.5,512.3 245.6,511.3 245.6,510.3 245.7,509.3 245.8,508.3 245.9,507.3 245.9,506.3 246.0,505.3 246.1,504.3 246.2,503.3 246.3,502.3 246.3,501.3 246.4,500.3 246.5,499.3 246.6,498.3 246.7,497.3 246.7,496.3 246.8,495.3 246.9,494.3 247.0,493.3 247.1,492.3 247.1,491.3 247.2,490.3 247.3,489.3 247.4,488.3 247.5,487.3 247.6,486.3 247.6,485.3 247.7,484.3 247.8,483.3 247.9,482.3 248.0,481.3 248.1,480.3 248.2,479.3 248.3,478.3 248.3,477.3 248.4,476.3 248.5,475.3 248.6,474.3 248.7,473.3 248.8,472.3 248.9,471.3 249.0,470.3 249.0,469.3 249.1,468.3 249.2,467.3 249.3,466.4 249.4,465.4 249.5,464.4 249.6,463.4 249.7,462.4 249.7,461.4 249.8,460.4 249.9,459.4 250.0,458.4 250.1,457.4 250.2,456.4 250.2,455.4 250.3,454.4 250.4,453.4 250.5,452.4 250.6,451.4 250.7,450.4 250.7,449.4 250.8,448.4 250.9,447.4 251.0,446.4 251.1,445.4 251.2,444.4 251.3,443.4 251.3,442.4 251.4,441.4 251.5,440.4 251.6,439.4 251.7,438.4 251.8,437.4 251.9,436.4 252.0,435.4 252.1,434.4 252.2,433.4 252.3,432.4 252.4,431.4 252.5,430.4 252.6,429.5 252.7,428.5 252.8,427.5 252.9,426.5 253.0,425.5 253.2,424.5 253.3,423.5 253.4,422.5 253.5,421.5 253.6,420.5 253.7,419.5 253.9,418.5 254.0,417.5 254.1,416.5 254.2,415.5 254.3,414.5 254.5,413.5 254.6,412.5 254.7,411.5 254.8,410.6 254.9,409.6 255.1,408.6 255.2,407.6 255.3,406.6 255.4,405.6 255.5,404.6 255.6,403.6 255.8,402.6 255.9,401.6 256.0,400.6 256.1,399.6 256.2,398.6 256.3,397.6 256.4,396.6 256.6,395.6 256.7,394.6 256.8,393.6 256.9,392.7 257.1,391.7 257.2,390.7 257.4,389.7 257.5,388.7 257.6,387.7 257.8,386.7 258.0,385.7 258.1,384.7 258.3,383.8 258.5,382.8 258.7,381.8 258.8,380.8 259.0,379.8 259.2,378.8 259.4,377.8 259.6,376.9 259.8,375.9 260.0,374.9 260.2,373.9 260.4,372.9 260.6,372.0 260.8,371.0 261.0,370.0 261.2,369.0 261.4,368.0 261.6,367.1 261.8,366.1 262.0,365.1 262.2,364.1 262.4,363.1 262.6,362.1 262.9,361.2 263.1,360.2 263.3,359.2 263.5,358.2 263.7,357.3 264.0,356.3 264.2,355.3 264.4,354.3 264.7,353.4 264.9,352.4 265.2,351.4 265.4,350.5 265.7,349.5 265.9,348.5 266.2,347.5 266.5,346.6 266.7,345.6 267.0,344.6 267.3,343.7 267.7,342.7 268.0,341.8 268.3,340.9 268.7,339.9 269.1,339.0 269.5,338.1 270.0,337.2 270.6,336.3 271.2,335.6 272.0,334.8 272.8,334.4 273.7,334.7 274.6,335.4 275.2,336.1 275.8,336.8 276.4,337.7 276.9,338.6 277.3,339.5 277.7,340.5 278.1,341.4 278.4,342.3 278.7,343.3 279.0,344.2 279.3,345.2 279.6,346.1 279.8,347.1 280.1,348.1 280.3,349.1 280.5,350.0 280.8,351.0 281.0,352.0 281.2,353.0 281.4,354.0 281.6,355.0 281.8,356.0 282.1,356.9 282.3,357.9 282.5,358.9 282.8,359.9 283.0,360.8 283.2,361.8 283.4,362.8 283.7,363.8 283.9,364.7 284.1,365.7 284.3,366.7 284.6,367.7 284.8,368.6 285.0,369.6 285.2,370.6 285.4,371.6 285.6,372.6 285.8,373.5 286.0,374.5 286.2,375.5 286.4,376.5 286.6,377.5 286.8,378.4 286.9,379.4 287.1,380.4 287.3,381.4 287.5,382.4 287.6,383.4 287.8,384.4 288.0,385.4 288.1,386.3 288.3,387.3 288.5,388.3 288.6,389.3 288.8,390.3 288.9,391.3 289.1,392.3 289.2,393.3 289.4,394.3 289.5,395.2 289.7,396.2 289.8,397.2 290.0,398.2 290.1,399.2 290.2,400.2 290.4,401.2 290.5,402.2 290.6,403.2 290.8,404.2 290.9,405.2 291.0,406.2 291.2,407.1 291.3,408.1 291.4,409.1 291.6,410.1 291.7,411.1 291.8,412.1 291.9,413.1 292.1,414.1 292.2,415.1 292.3,416.1 292.4,417.1 292.6,418.1 292.7,419.1 292.8,420.1 292.9,421.1 293.0,422.0 293.2,423.0 293.3,424.0 293.4,425.0 293.5,426.0 293.6,427.0 293.8,428.0 293.9,429.0 294.0,430.0 294.1,431.0 294.2,432.0 294.4,433.0 294.5,434.0 294.6,435.0 294.7,436.0 294.8,437.0 294.9,438.0 295.1,439.0 295.2,439.9 295.3,440.9 295.4,441.9 295.5,442.9 295.6,443.9 295.8,444.9 295.9,445.9 296.0,446.9 296.1,447.9 296.2,448.9 296.3,449.9 296.4,450.9 296.5,451.9 296.6,452.9 296.7,453.9 296.8,454.9 296.9,455.9 297.0,456.9 297.2,457.9 297.3,458.9 297.4,459.9 297.5,460.9 297.6,461.8 297.6,462.8 297.7,463.8 297.8,464.8 297.9,465.8 298.0,466.8 298.1,467.8 298.2,468.8 298.3,469.8 298.4,470.8 298.5,471.8 298.6,472.8 298.7,473.8 298.7,474.8 298.8,475.8 298.9,476.8 299.0,477.8 299.1,478.8 299.2,479.8 299.2,480.8 299.3,481.8 299.4,482.8 299.5,483.8 299.6,484.8 299.7,485.8 299.8,486.8 299.9,487.8 300.0,488.8 300.0,489.8 300.1,490.8 300.2,491.8 300.3,492.8 300.4,493.8 300.5,494.8 300.6,495.7 300.7,496.7 300.8,497.7 301.0,498.7 301.1,499.7 301.2,500.7 301.3,501.7 301.4,502.7 301.5,503.7 301.6,504.7 301.7,505.7 301.8,506.7 301.9,507.7 302.0,508.7 302.1,509.7 302.2,510.7 302.3,511.7 302.3,512.7 302.4,513.7 302.5,514.7 302.6,515.7 302.7,516.7 302.8,517.7 302.8,518.7 302.9,519.7 303.0,520.7 303.1,521.7 303.2,522.7 303.2,523.7 303.3,524.7 303.4,525.7 303.5,526.7 303.5,527.7 303.6,528.7 303.7,529.7 303.8,530.7 303.9,531.7 303.9,532.6 304.0,533.6 304.1,534.6 304.2,535.6 304.3,536.6 304.4,537.6 304.5,538.6 304.6,539.6 304.8,540.6 304.9,541.6 305.0,542.6 305.1,543.6 305.3,544.6 305.4,545.6 305.5,546.6 305.6,547.6 305.8,548.6 305.9,549.6 306.0,550.5 306.1,551.5 306.3,552.5 306.4,553.5 306.5,554.5 306.6,555.5 306.8,556.5 306.9,557.5 307.0,558.5 307.2,559.5 307.3,560.5 307.4,561.5 307.6,562.5 307.7,563.5 307.8,564.5 308.0,565.4 308.1,566.4 308.2,567.4 308.4,568.4 308.5,569.4 308.7,570.4 308.8,571.4 309.0,572.4 309.1,573.4 309.3,574.4 309.5,575.3 309.7,576.3 310.0,577.3 310.2,578.3 310.5,579.2 310.8,580.2 311.1,581.1 311.5,582.0 312.0,582.9 312.5,583.8 313.1,584.7 313.7,585.4 314.4,586.1 315.1,586.8 315.9,587.5 316.7,588.1 317.5,588.7 318.4,589.2 319.3,589.7 320.1,590.1 321.0,590.6 321.9,591.0 322.9,591.3 323.8,591.7 324.7,592.1 325.7,592.4 326.7,592.7 327.6,593.0 328.6,593.3 329.6,593.6 330.5,593.8 331.5,594.0 332.5,594.3 333.5,594.5 334.4,594.7 335.4,594.9 336.4,595.1 337.4,595.3 338.4,595.5 339.4,595.6 340.3,595.8 341.3,596.0 342.3,596.2 343.3,596.3 344.3,596.5 345.3,596.6 346.3,596.8 347.3,596.9 348.3,597.1 349.2,597.2 350.2,597.4 351.2,597.5 352.2,597.6 353.2,597.8 354.2,597.9 355.2,598.0 356.2,598.2 357.2,598.3 358.2,598.4 359.2,598.6 360.2,598.7 361.1,598.9 362.1,599.0 363.1,599.1 364.1,599.3 365.1,599.4 366.1,599.6 367.1,599.7 368.1,599.9 369.1,600.0 370.1,600.2 371.1,600.3 372.0,600.5 373.0,600.6 374.0,600.8 375.0,600.9 376.0,601.1 377.0,601.3 378.0,601.4 379.0,601.6 379.9,601.8 380.9,602.0 381.9,602.3 382.9,602.5 383.9,602.7 384.9,602.9 385.8,603.1 386.8,603.3 387.8,603.4 388.8,603.5 389.8,603.6 390.8,603.7 391.8,603.7 392.8,603.8 393.8,603.8 394.8,603.9 395.8,603.9 396.8,604.0 397.8,604.0 398.8,604.0 399.8,604.0 400.8,604.0 401.8,603.9 402.8,603.8 403.8,603.8 404.8,603.7 405.8,603.6 406.8,603.6 407.8,603.6 408.8,603.7 409.8,603.9 410.7,604.1 411.7,604.3 412.7,604.5 413.7,604.7 414.7,604.9 415.7,605.0 416.7,605.2 417.7,605.3 418.7,605.5 419.7,605.6 420.7,605.7 421.6,605.8 422.6,605.9 423.6,606.0 424.6,606.1 425.6,606.2 426.6,606.2 427.6,606.3 428.6,606.4 429.6,606.5 430.6,606.5 431.6,606.6 432.6,606.7 433.6,606.8 434.6,606.9 435.6,607.0 436.6,607.1 437.6,607.2 438.6,607.3 439.6,607.3 440.6,607.4 441.6,607.5 442.6,607.5 443.6,607.6 444.6,607.6 445.6,607.7 446.6,607.8 447.6,607.8" stroke="#0000ff" stroke-width="1.8"/>
<path d="M240.5,566.0 240.7,565.0 240.8,564.0 241.0,563.0 241.1,562.0 241.3,561.0 241.4,560.0 241.5,559.0 241.7,558.1 241.8,557.1 241.9,556.1 242.0,555.1 242.2,554.1 242.3,553.1 242.3,552.1 242.4,551.1 242.5,550.1 242.5,549.1 242.6,548.1 242.7,547.1 242.7,546.1 242.7,545.1 242.8,544.1 242.8,543.1 242.9,542.1 242.9,541.1 242.9,540.1 243.0,539.1 243.0,538.1 243.0,537.1 243.1,536.1 243.1,535.1 243.1,534.1 243.1,533.1 243.2,532.0 243.2,531.0 243.2,530.0 243.3,529.0 243.3,528.0 243.3,527.0 243.4,526.0 243.4,525.0 243.4,524.0 243.5,523.0 243.5,522.0 243.6,521.0 243.6,520.0 243.7,519.0 243.8,518.0 243.8,517.0 243.9,516.0 243.9,515.0 244.0,514.0 244.1,513.0 244.1,512.0 244.2,511.0 244.3,510.0 244.3,509.0 244.4,508.0 244.5,507.0 244.5,506.0 244.6,505.0 244.7,504.0 244.7,503.0 244.8,502.0 244.9,501.0 245.0,500.0 245.0,499.0 245.1,498.0 245.2,497.0 245.3,496.0 245.3,495.0 245.4,494.0 245.5,493.0 245.5,492.0 245.6,491.0 245.7,490.0 245.8,489.0 245.9,488.0 246.0,487.0 246.0,486.0 246.1,485.0 246.2,484.0 246.3,483.0 246.4,482.0 246.5,481.0 246.6,480.0 246.6,479.0 246.7,478.0 246.8,477.0 246.9,476.0 247.0,475.0 247.1,474.0 247.1,473.0 247.2,472.0 247.3,471.0 247.4,470.0 247.4,469.0 247.5,468.0 247.6,467.0 247.6,466.0 247.7,465.0 247.7,464.0 247.8,463.0 247.9,462.0 247.9,461.0 248.0,460.0 248.0,459.0 248.1,458.0 248.1,457.0 248.2,456.0 248.2,455.0 248.3,454.0 248.3,453.0 248.4,452.0 248.4,451.0 248.5,450.0 248.5,449.0 248.5,448.0 248.6,447.0 248.6,446.0 248.7,445.0 248.7,444.0 248.8,443.0 248.8,442.0 248.9,441.0 248.9,440.0 249.0,439.0 249.0,438.0 249.1,437.0 249.1,436.0 249.2,435.0 249.3,434.0 249.3,433.0 249.4,432.0 249.4,431.0 249.5,430.0 249.6,429.0 249.6,428.0 249.7,427.0 249.8,426.0 249.8,425.0 249.9,424.0 250.0,423.0 250.1,422.0 250.1,421.0 250.2,420.0 250.3,419.0 250.4,418.0 250.4,417.0 250.5,416.0 250.6,415.0 250.7,414.0 250.8,413.0 250.9,412.0 250.9,411.0 251.0,410.0 251.1,409.0 251.2,408.0 251.3,407.0 251.4,406.0 251.5,405.0 251.6,404.0 251.7,403.0 251.9,402.0 252.0,401.0 252.1,400.0 252.2,399.0 252.3,398.0 252.5,397.0 252.6,396.0 252.7,395.0 252.8,394.0 253.0,393.0 253.1,392.0 253.2,391.0 253.3,390.1 253.5,389.1 253.6,388.1 253.7,387.1 253.8,386.1 254.0,385.1 254.1,384.1 254.2,383.1 254.4,382.1 254.5,381.1 254.6,380.1 254.8,379.1 254.9,378.1 255.0,377.1 255.1,376.1 255.3,375.1 255.4,374.1 255.6,373.2 255.7,372.2 255.8,371.2 256.0,370.2 256.1,369.2 256.2,368.2 256.4,367.2 256.5,366.2 256.7,365.2 256.8,364.2 257.0,363.2 257.1,362.2 257.2,361.2 257.4,360.2 257.5,359.3 257.7,358.3 257.8,357.3 258.0,356.3 258.1,355.3 258.3,354.3 258.4,353.3 258.6,352.3 258.7,351.3 258.9,350.3 259.0,349.3 259.2,348.3 259.3,347.4 259.5,346.4 259.6,345.4 259.8,344.4 260.0,343.4 260.1,342.4 260.3,341.4 260.4,340.4 260.6,339.4 260.8,338.4 261.0,337.5 261.1,336.5 261.3,335.5 261.5,334.5 261.6,333.5 261.8,332.5 262.0,331.5 262.1,330.5 262.3,329.5 262.5,328.5 262.6,327.5 262.8,326.5 263.0,325.5 263.2,324.5 263.4,323.6 263.7,322.6 263.9,321.6 264.2,320.7 264.4,319.7 264.7,318.8 265.0,317.8 265.4,316.8 265.8,315.8 266.2,314.9 266.7,314.0 267.3,313.3 267.9,312.6 268.8,312.0 269.8,311.8 270.7,312.2 271.6,312.8 272.3,313.5 272.9,314.2 273.5,315.0 274.0,315.8 274.5,316.7 275.0,317.7 275.4,318.6 275.9,319.5 276.3,320.4 276.8,321.3 277.2,322.2 277.6,323.1 278.1,324.0 278.5,325.0 278.9,325.9 279.3,326.8 279.7,327.7 280.1,328.7 280.5,329.6 280.8,330.5 281.2,331.5 281.5,332.4 281.9,333.3 282.2,334.3 282.5,335.2 282.8,336.2 283.1,337.1 283.4,338.1 283.7,339.0 284.0,340.0 284.3,341.0 284.6,341.9 284.9,342.9 285.1,343.9 285.4,344.8 285.7,345.8 285.9,346.8 286.2,347.8 286.4,348.7 286.7,349.7 286.9,350.7 287.1,351.7 287.3,352.6 287.6,353.6 287.8,354.6 288.0,355.6 288.2,356.6 288.4,357.5 288.6,358.5 288.7,359.5 288.9,360.5 289.1,361.5 289.3,362.5 289.5,363.4 289.6,364.4 289.8,365.4 289.9,366.4 290.1,367.4 290.3,368.4 290.4,369.4 290.6,370.4 290.7,371.4 290.9,372.4 291.0,373.4 291.2,374.4 291.3,375.3 291.5,376.3 291.6,377.3 291.8,378.3 291.9,379.3 292.1,380.3 292.2,381.3 292.4,382.3 292.5,383.3 292.7,384.3 292.8,385.3 293.0,386.3 293.1,387.3 293.2,388.2 293.4,389.2 293.5,390.2 293.6,391.2 293.7,392.2 293.9,393.2 294.0,394.2 294.1,395.2 294.2,396.2 294.3,397.2 294.5,398.2 294.6,399.2 294.7,400.2 294.8,401.2 294.9,402.2 295.0,403.2 295.1,404.2 295.2,405.2 295.4,406.2 295.5,407.2 295.6,408.2 295.7,409.2 295.8,410.2 296.0,411.1 296.1,412.1 296.2,413.1 296.3,414.1 296.4,415.1 296.6,416.1 296.7,417.1 296.8,418.1 296.9,419.1 297.0,420.1 297.2,421.1 297.3,422.1 297.4,423.1 297.5,424.1 297.6,425.1 297.7,426.1 297.9,427.1 298.0,428.1 298.1,429.1 298.2,430.1 298.3,431.1 298.4,432.1 298.5,433.1 298.6,434.1 298.7,435.1 298.8,436.1 298.8,437.1 298.9,438.1 299.0,439.1 299.1,440.1 299.2,441.0 299.3,442.0 299.4,443.0 299.4,444.0 299.5,445.0 299.6,446.0 299.7,447.0 299.8,448.0 299.8,449.0 299.9,450.0 300.0,451.0 300.1,452.0 300.2,453.0 300.2,454.0 300.3,455.0 300.4,456.0 300.5,457.0 300.5,458.0 300.6,459.0 300.7,460.0 300.8,461.0 300.8,462.0 300.9,463.0 301.0,464.0 301.1,465.0 301.2,466.0 301.2,467.0 301.3,468.0 301.4,469.0 301.5,470.0 301.6,471.0 301.7,472.0 301.7,473.0 301.8,474.0 301.9,475.0 302.0,476.0 302.1,477.0 302.2,478.0 302.2,479.0 302.3,480.0 302.4,481.0 302.5,482.0 302.6,483.0 302.7,484.0 302.7,485.0 302.8,486.0 302.9,487.0 303.0,488.0 303.1,489.0 303.1,490.0 303.2,491.0 303.3,492.0 303.4,493.0 303.5,494.0 303.5,495.0 303.6,496.0 303.7,497.0 303.8,498.0 303.8,499.0 303.9,500.0 304.0,501.0 304.1,502.0 304.2,503.0 304.2,504.0 304.3,505.0 304.4,506.0 304.4,507.0 304.5,508.0 304.6,509.0 304.7,510.0 304.7,511.0 304.8,512.0 304.9,513.0 305.0,514.0 305.0,515.0 305.1,516.0 305.2,517.0 305.2,518.0 305.3,519.0 305.3,520.0 305.4,521.0 305.5,522.0 305.5,523.0 305.6,524.0 305.7,525.0 305.7,526.0 305.8,527.0 305.9,528.0 305.9,529.0 306.0,530.0 306.0,531.0 306.1,532.0 306.2,533.0 306.2,534.0 306.3,535.0 306.4,536.0 306.4,537.0 306.5,538.0 306.6,539.0 306.6,540.0 306.7,541.0 306.8,542.0 306.8,543.0 306.9,544.0 307.0,545.0 307.0,546.0 307.1,547.0 307.2,548.0 307.3,549.0 307.3,550.0 307.4,551.0 307.5,552.0 307.6,553.0 307.7,554.0 307.8,555.0 307.9,556.0 308.0,557.0 308.1,558.0 308.2,559.0 308.3,560.0 308.4,561.0 308.5,562.0 308.6,563.0 308.8,564.0 308.9,565.0 309.0,566.0" stroke="#0000ff" stroke-width="1.5" stroke-dasharray="3.3,3.2"/>
<path d="M243.6,566.0 243.7,565.0 243.8,564.0 243.9,563.0 244.0,562.0 244.1,561.0 244.2,560.0 244.3,559.0 244.4,558.0 244.5,557.0 244.5,556.0 244.6,555.0 244.7,554.0 244.8,553.0 244.9,552.0 245.0,551.0 245.1,550.0 245.2,549.0 245.3,548.0 245.4,547.0 245.4,546.0 245.5,545.0 245.6,544.0 245.7,543.0 245.8,542.0 245.9,541.0 245.9,540.0 246.0,539.0 246.1,538.0 246.2,537.0 246.3,536.0 246.4,535.0 246.4,534.0 246.5,533.0 246.6,532.0 246.7,531.0 246.8,530.0 246.9,529.0 246.9,528.0 247.0,527.0 247.1,526.0 247.2,525.0 247.3,524.0 247.4,523.0 247.5,522.0 247.6,521.0 247.7,520.0 247.8,519.0 247.9,518.0 248.0,517.0 248.1,516.0 248.2,515.0 248.3,514.0 248.4,513.0 248.5,512.0 248.6,511.0 248.7,510.0 248.8,509.0 248.9,508.0 249.0,507.0 249.1,506.0 249.2,505.0 249.3,504.0 249.4,503.0 249.5,502.0 249.6,501.0 249.7,500.0 249.8,499.0 249.9,498.0 250.0,497.0 250.1,496.0 250.2,495.0 250.3,494.0 250.4,493.0 250.5,492.0 250.6,491.0 250.7,490.0 250.8,489.0 250.9,488.0 251.0,487.0 251.1,486.0 251.2,485.0 251.3,484.0 251.4,483.0 251.4,482.0 251.5,481.1 251.6,480.1 251.7,479.1 251.8,478.1 251.9,477.1 252.0,476.1 252.1,475.1 252.2,474.1 252.3,473.1 252.4,472.1 252.5,471.1 252.6,470.1 252.7,469.1 252.8,468.1 252.9,467.1 253.0,466.1 253.2,465.1 253.3,464.1 253.4,463.1 253.5,462.1 253.6,461.1 253.7,460.1 253.8,459.1 253.9,458.1 254.0,457.1 254.2,456.1 254.3,455.1 254.4,454.1 254.5,453.1 254.6,452.1 254.7,451.1 254.9,450.1 255.0,449.1 255.1,448.1 255.2,447.1 255.3,446.1 255.5,445.1 255.6,444.1 255.7,443.1 255.8,442.1 256.0,441.1 256.1,440.1 256.2,439.2 256.4,438.2 256.5,437.2 256.6,436.2 256.7,435.2 256.9,434.2 257.0,433.2 257.2,432.2 257.3,431.2 257.4,430.2 257.6,429.2 257.7,428.2 257.9,427.2 258.0,426.2 258.2,425.2 258.3,424.2 258.5,423.3 258.7,422.3 258.8,421.3 259.0,420.3 259.1,419.3 259.3,418.3 259.4,417.3 259.6,416.3 259.8,415.3 259.9,414.3 260.1,413.3 260.2,412.4 260.4,411.4 260.6,410.4 260.7,409.4 260.9,408.4 261.0,407.4 261.2,406.4 261.3,405.4 261.5,404.4 261.6,403.4 261.8,402.4 261.9,401.4 262.1,400.4 262.2,399.4 262.3,398.5 262.5,397.5 262.6,396.5 262.8,395.5 262.9,394.5 263.1,393.5 263.3,392.5 263.4,391.5 263.6,390.5 263.7,389.5 263.9,388.5 264.1,387.6 264.3,386.6 264.4,385.6 264.6,384.6 264.8,383.6 265.0,382.6 265.2,381.6 265.4,380.7 265.6,379.7 265.8,378.7 266.0,377.7 266.2,376.7 266.4,375.7 266.6,374.8 266.9,373.8 267.1,372.8 267.3,371.8 267.5,370.8 267.7,369.8 267.9,368.8 268.2,367.9 268.4,366.9 268.6,365.9 268.9,364.9 269.1,364.0 269.4,363.0 269.7,362.0 269.9,361.1 270.3,360.1 270.6,359.2 270.9,358.2 271.3,357.2 271.7,356.2 272.2,355.4 272.9,354.8 273.8,354.3 274.8,354.3 275.8,354.7 276.4,355.4 276.9,356.1 277.4,356.9 277.8,357.8 278.1,358.8 278.4,359.9 278.7,360.9 279.0,362.0 279.2,363.0 279.5,363.9 279.7,364.9 279.9,365.9 280.1,366.9 280.3,367.8 280.5,368.8 280.6,369.8 280.8,370.8 281.0,371.8 281.1,372.8 281.3,373.8 281.5,374.8 281.6,375.8 281.8,376.8 282.0,377.8 282.2,378.8 282.4,379.7 282.5,380.7 282.7,381.7 282.9,382.7 283.1,383.7 283.3,384.7 283.5,385.7 283.7,386.6 283.8,387.6 284.0,388.6 284.2,389.6 284.3,390.6 284.5,391.6 284.6,392.6 284.8,393.6 285.0,394.6 285.1,395.6 285.3,396.6 285.4,397.5 285.6,398.5 285.7,399.5 285.8,400.5 286.0,401.5 286.1,402.5 286.3,403.5 286.4,404.5 286.5,405.5 286.7,406.5 286.8,407.5 286.9,408.5 287.1,409.5 287.2,410.5 287.3,411.5 287.4,412.5 287.6,413.5 287.7,414.5 287.8,415.5 287.9,416.5 288.0,417.4 288.1,418.4 288.3,419.4 288.4,420.4 288.5,421.4 288.6,422.4 288.7,423.4 288.8,424.4 288.9,425.4 289.0,426.4 289.1,427.4 289.3,428.4 289.4,429.4 289.5,430.4 289.6,431.4 289.7,432.4 289.8,433.4 289.9,434.4 290.0,435.4 290.1,436.4 290.3,437.4 290.4,438.4 290.5,439.4 290.6,440.4 290.7,441.4 290.8,442.4 290.9,443.4 291.0,444.4 291.1,445.4 291.2,446.4 291.3,447.4 291.4,448.4 291.5,449.4 291.6,450.4 291.8,451.4 291.9,452.4 292.0,453.4 292.1,454.4 292.2,455.4 292.3,456.4 292.4,457.4 292.5,458.4 292.6,459.4 292.8,460.4 292.9,461.4 293.0,462.3 293.1,463.3 293.2,464.3 293.4,465.3 293.5,466.3 293.6,467.3 293.7,468.3 293.9,469.3 294.0,470.3 294.2,471.3 294.3,472.3 294.5,473.3 294.6,474.3 294.8,475.3 294.9,476.3 295.1,477.3 295.2,478.3 295.4,479.2 295.5,480.2 295.7,481.2 295.8,482.2 295.9,483.2 296.1,484.2 296.2,485.2 296.4,486.2 296.5,487.2 296.6,488.2 296.7,489.2 296.8,490.2 296.9,491.2 297.0,492.2 297.1,493.2 297.2,494.2 297.3,495.2 297.4,496.2 297.5,497.2 297.6,498.2 297.7,499.2 297.8,500.2 297.9,501.2 298.0,502.2 298.1,503.2 298.2,504.2 298.3,505.2 298.4,506.2 298.5,507.2 298.6,508.2 298.7,509.2 298.8,510.2 298.9,511.2 299.0,512.2 299.1,513.2 299.2,514.2 299.3,515.2 299.4,516.2 299.5,517.2 299.7,518.2 299.8,519.1 299.9,520.1 300.0,521.1 300.1,522.1 300.3,523.1 300.4,524.1 300.5,525.1 300.6,526.1 300.7,527.1 300.9,528.1 301.0,529.1 301.1,530.1 301.2,531.1 301.3,532.1 301.5,533.1 301.6,534.1 301.7,535.1 301.8,536.1 301.9,537.1 302.0,538.1 302.2,539.1 302.3,540.1 302.4,541.1 302.5,542.1 302.6,543.1 302.7,544.1 302.8,545.1 303.0,546.1 303.1,547.1 303.2,548.1 303.3,549.1 303.4,550.1 303.5,551.0 303.7,552.0 303.8,553.0 303.9,554.0 304.0,555.0 304.1,556.0 304.2,557.0 304.4,558.0 304.5,559.0 304.6,560.0 304.7,561.0 304.8,562.0 304.9,563.0 305.1,564.0 305.2,565.0 305.3,566.0" stroke="#0000ff" stroke-width="1.5" stroke-dasharray="3.3,3.2"/>
<path d="M67.4,505.4 68.1,506.1 68.8,506.8 69.5,507.5 70.2,508.3 70.9,509.0 71.6,509.7 72.3,510.4 73.0,511.1 73.7,511.8 74.5,512.5 75.2,513.2 75.9,514.0 76.6,514.7 77.3,515.4 78.0,516.1 78.7,516.8 79.4,517.5 80.1,518.2 80.8,518.9 81.5,519.6 82.2,520.3 82.9,521.1 83.6,521.8 84.3,522.5 85.0,523.2 85.7,523.9 86.5,524.6 87.2,525.3 87.9,525.9 88.6,526.6 89.4,527.2 90.1,527.9 90.9,528.5 91.6,529.2 92.4,529.8 93.1,530.5 93.9,531.1 94.7,531.7 95.5,532.3 96.3,532.9 97.1,533.5 97.9,534.1 98.7,534.6 99.5,535.2 100.3,535.7 101.1,536.2 102.0,536.7 102.8,537.2 103.7,537.6 104.6,538.1 105.5,538.6 106.4,539.1 107.2,539.5 108.1,540.0 109.0,540.5 109.9,540.9 110.8,541.4 111.7,541.9 112.5,542.3 113.4,542.8 114.3,543.3 115.2,543.7 116.1,544.2 117.0,544.6 117.9,545.1 118.8,545.5 119.7,546.0 120.6,546.4 121.5,546.9 122.4,547.3 123.3,547.8 124.2,548.3 125.0,548.7 125.9,549.2 126.8,549.7 127.7,550.2 128.5,550.8 129.4,551.3 130.2,551.9 131.1,552.4 131.9,553.0 132.7,553.6 133.5,554.1 134.4,554.7 135.2,555.3 136.0,555.8 136.9,556.4 137.7,556.9 138.5,557.4 139.4,557.9 140.3,558.4 141.2,558.8 142.0,559.3 142.9,559.8 143.8,560.2 144.7,560.6 145.6,561.1 146.5,561.5 147.4,561.9 148.3,562.3 149.3,562.7 150.2,563.0 151.1,563.4 152.0,563.8 153.0,564.2 153.9,564.6 154.8,565.0 155.7,565.4 156.7,565.8 157.6,566.2 158.5,566.6 159.4,567.1 160.3,567.6 161.2,568.1 162.0,568.6 162.9,569.1 163.7,569.7 164.6,570.2 165.4,570.7 166.3,571.2 167.2,571.7 168.0,572.2 168.9,572.7 169.8,573.1 170.7,573.5 171.6,573.8 172.5,574.2 173.5,574.5 174.4,574.6 175.3,574.7 176.3,574.8 177.3,574.9 178.3,574.9 179.3,574.9 180.3,575.0 181.3,575.0 182.4,575.1 183.4,575.2 184.4,575.2 185.4,575.3 186.4,575.4 187.4,575.6 188.4,575.9 189.3,576.3 190.3,576.7 191.2,577.1 192.1,577.5 193.1,577.9 194.0,578.3 194.9,578.7 195.9,579.1 196.8,579.4 197.7,579.7 198.6,580.0 199.6,580.2 200.5,580.3 201.5,580.5 202.5,580.7 203.5,580.8 204.5,581.0 205.5,581.1 206.5,581.2 207.5,581.3 208.5,581.3 209.4,581.4 210.5,581.4 211.5,581.5 212.5,581.5 213.5,581.5 214.5,581.6 215.5,581.6 216.5,581.7 217.5,581.8 218.5,582.0 219.5,582.3 220.4,582.8 221.3,583.3 222.2,583.8 223.1,584.3 224.0,584.7 224.9,585.2 225.8,585.7 226.7,586.2 227.6,586.7 228.4,587.1 229.3,587.4 230.3,587.7 231.2,588.1 232.1,588.3 233.0,588.4 234.1,588.4 235.1,588.2 235.7,588.1 236.1,587.6 236.6,586.7 237.0,585.7 237.3,584.8 237.6,583.8 237.8,582.9 238.0,581.9 238.2,580.9 238.3,579.9 238.5,578.9" stroke="#0000ff" stroke-width="1.2" stroke-dasharray="3.3,3.2"/>
<path d="M65.8,507.0 66.5,507.7 67.2,508.4 67.9,509.1 68.7,509.8 69.4,510.5 70.1,511.2 70.8,511.9 71.5,512.6 72.2,513.4 72.9,514.1 73.6,514.8 74.3,515.5 75.0,516.2 75.7,516.9 76.4,517.6 77.1,518.4 77.8,519.1 78.5,519.8 79.2,520.5 79.9,521.2 80.6,521.9 81.3,522.6 82.1,523.3 82.8,524.0 83.5,524.7 84.2,525.5 84.9,526.2 85.7,526.9 86.4,527.5 87.1,528.2 87.9,528.9 88.7,529.6 89.4,530.2 90.2,530.9 91.0,531.5 91.7,532.2 92.5,532.8 93.3,533.4 94.1,534.1 94.9,534.7 95.8,535.3 96.6,535.9 97.4,536.5 98.3,537.0 99.2,537.5 100.0,538.1 100.9,538.5 101.8,539.0 102.7,539.5 103.6,540.0 104.5,540.4 105.4,540.9 106.3,541.3 107.2,541.7 108.1,542.2 109.0,542.7 109.9,543.1 110.8,543.5 111.7,544.0 112.6,544.4 113.5,544.9 114.4,545.3 115.3,545.7 116.2,546.2 117.1,546.6 118.1,547.0 119.0,547.4 119.9,547.9 120.8,548.3 121.7,548.7 122.6,549.1 123.5,549.6 124.4,550.0 125.2,550.5 126.1,550.9 127.0,551.4 127.8,551.9 128.7,552.4 129.5,553.0 130.4,553.5 131.2,554.0 132.0,554.6 132.9,555.1 133.7,555.7 134.6,556.2 135.4,556.8 136.3,557.3 137.1,557.8 138.0,558.3 138.9,558.8 139.8,559.3 140.7,559.7 141.6,560.2 142.5,560.6 143.4,561.1 144.3,561.5 145.2,562.0 146.1,562.4 147.0,562.8 148.0,563.2 148.9,563.6 149.8,564.0 150.7,564.4 151.7,564.7 152.6,565.1 153.5,565.5 154.4,565.9 155.3,566.3 156.3,566.7 157.2,567.1 158.1,567.5 158.9,568.0 159.8,568.4 160.7,568.9 161.5,569.4 162.4,570.0 163.2,570.5 164.1,571.0 164.9,571.5 165.8,572.1 166.7,572.6 167.5,573.1 168.4,573.6 169.4,574.0 170.3,574.4 171.2,574.8 172.2,575.1 173.2,575.4 174.2,575.6 175.3,575.7 176.3,575.8 177.3,575.9 178.3,575.9 179.3,575.9 180.3,576.0 181.3,576.0 182.3,576.1 183.3,576.2 184.3,576.2 185.3,576.3 186.2,576.4 187.1,576.6 188.1,576.8 189.0,577.2 189.9,577.6 190.8,578.0 191.8,578.4 192.7,578.8 193.6,579.2 194.5,579.6 195.5,580.0 196.4,580.4 197.4,580.7 198.4,580.9 199.4,581.1 200.4,581.3 201.3,581.5 202.3,581.7 203.4,581.8 204.4,581.9 205.4,582.1 206.4,582.2 207.4,582.3 208.4,582.3 209.4,582.4 210.4,582.4 211.4,582.5 212.5,582.5 213.5,582.5 214.5,582.6 215.5,582.6 216.4,582.7 217.4,582.8 218.2,582.9 219.1,583.2 220.0,583.6 220.8,584.1 221.7,584.7 222.7,585.2 223.6,585.6 224.4,586.1 225.3,586.6 226.2,587.1 227.1,587.5 228.0,588.0 229.0,588.4 229.9,588.7 230.9,589.0 232.0,589.3 233.0,589.4 234.1,589.4 235.2,589.2 236.2,589.0 237.0,588.2 237.5,587.1 237.9,586.0 238.3,585.1 238.5,584.1 238.8,583.1 239.0,582.1 239.2,581.1 239.3,580.1 239.5,579.1" stroke="#0000ff" stroke-width="1.2" stroke-dasharray="3.3,3.2"/>
<path d="M310.4,575.2 310.6,576.1 310.8,577.1 311.1,578.0 311.4,579.0 311.7,579.9 312.0,580.8 312.3,581.7 312.8,582.5 313.2,583.3 313.8,584.1 314.4,584.8 315.0,585.5 315.7,586.1 316.4,586.7 317.2,587.3 318.0,587.9 318.9,588.4 319.7,588.9 320.5,589.3 321.4,589.7 322.3,590.1 323.2,590.5 324.1,590.9 325.1,591.2 326.0,591.5 326.9,591.9 327.9,592.1 328.8,592.4 329.8,592.7 330.7,592.9 331.7,593.2 332.7,593.4 333.6,593.7 334.6,593.9 335.6,594.1 336.6,594.3 337.5,594.5 338.5,594.7 339.5,594.9 340.5,595.1 341.5,595.3 342.4,595.5 343.4,595.6 344.4,595.8 345.4,596.0 346.4,596.2 347.4,596.3 348.3,596.5 349.3,596.6 350.3,596.8 351.3,596.9 352.3,597.1 353.3,597.2 354.3,597.4 355.3,597.5 356.3,597.7 357.2,597.8 358.2,598.0 359.2,598.1 360.2,598.3 361.2,598.4 362.2,598.6 363.2,598.8 364.2,598.9 365.2,599.1 366.2,599.2 367.1,599.4 368.1,599.6 369.1,599.7 370.1,599.9 371.1,600.1 372.1,600.2 373.1,600.4 374.1,600.6 375.0,600.7 376.0,600.9 377.0,601.1 378.0,601.2 379.0,601.4 380.0,601.6 381.0,601.9 382.0,602.1 382.9,602.3 383.9,602.5 384.9,602.7 385.9,602.9 386.9,603.1 387.8,603.2 388.8,603.3 389.8,603.4 390.8,603.5 391.8,603.5 392.8,603.6 393.8,603.6 394.8,603.7 395.8,603.7 396.8,603.8 397.8,603.8 398.8,603.8 399.8,603.8 400.8,603.8 401.8,603.7 402.8,603.6 403.8,603.6 404.8,603.5 405.8,603.4 406.8,603.4 407.8,603.4 408.8,603.5 409.8,603.7 410.8,603.9 411.8,604.1 412.8,604.3 413.7,604.5 414.7,604.7 415.7,604.8 416.7,605.0 417.7,605.1 418.7,605.3 419.7,605.4 420.7,605.5 421.7,605.6 422.7,605.7 423.7,605.8 424.7,605.9 425.6,606.0 426.6,606.0 427.6,606.1 428.6,606.2 429.6,606.3 430.6,606.3 431.6,606.4 432.6,606.5 433.6,606.6 434.6,606.7 435.6,606.8 436.6,606.9 437.6,607.0 438.6,607.1 439.6,607.1 440.6,607.2 441.6,607.3 442.6,607.3 443.6,607.4 444.6,607.4 445.6,607.5 446.6,607.6 447.6,607.6" stroke="#0000ff" stroke-width="1.1" stroke-dasharray="3.3,3.2"/>
<path d="M308.6,575.5 308.8,576.5 309.1,577.5 309.3,578.5 309.6,579.5 310.0,580.5 310.3,581.5 310.7,582.4 311.2,583.4 311.7,584.3 312.3,585.2 313.0,586.0 313.7,586.8 314.5,587.5 315.3,588.2 316.2,588.8 317.1,589.4 317.9,590.0 318.8,590.5 319.7,590.9 320.6,591.4 321.6,591.8 322.5,592.2 323.5,592.6 324.4,592.9 325.4,593.2 326.4,593.6 327.4,593.9 328.4,594.2 329.3,594.4 330.3,594.7 331.3,594.9 332.3,595.1 333.3,595.3 334.3,595.5 335.3,595.7 336.3,595.9 337.2,596.0 338.2,596.2 339.2,596.4 340.2,596.5 341.2,596.7 342.2,596.9 343.2,597.0 344.2,597.2 345.2,597.3 346.2,597.4 347.2,597.6 348.2,597.7 349.2,597.8 350.2,598.0 351.1,598.1 352.1,598.2 353.1,598.3 354.1,598.4 355.1,598.5 356.1,598.7 357.1,598.8 358.1,598.9 359.1,599.0 360.1,599.1 361.1,599.3 362.1,599.4 363.1,599.5 364.1,599.7 365.1,599.8 366.1,599.9 367.0,600.0 368.0,600.2 369.0,600.3 370.0,600.4 371.0,600.6 372.0,600.7 373.0,600.9 374.0,601.0 375.0,601.1 376.0,601.3 377.0,601.5 377.9,601.6 378.9,601.8 379.9,602.0 380.9,602.2 381.9,602.5 382.8,602.7 383.8,602.9 384.8,603.1 385.8,603.3 386.8,603.5 387.8,603.6 388.8,603.7 389.8,603.8 390.8,603.9 391.8,603.9 392.8,604.0 393.8,604.0 394.8,604.1 395.8,604.1 396.8,604.2 397.8,604.2 398.8,604.2 399.8,604.2 400.8,604.2 401.8,604.1 402.8,604.0 403.8,603.9 404.8,603.9 405.8,603.8 406.8,603.8 407.8,603.8 408.8,603.9 409.7,604.1 410.7,604.3 411.7,604.5 412.7,604.7 413.7,604.9 414.7,605.1 415.7,605.2 416.6,605.4 417.6,605.5 418.6,605.7 419.6,605.8 420.6,605.9 421.6,606.0 422.6,606.1 423.6,606.2 424.6,606.3 425.6,606.4 426.6,606.4 427.6,606.5 428.6,606.6 429.6,606.7 430.6,606.7 431.6,606.8 432.6,606.9 433.6,607.0 434.6,607.1 435.6,607.2 436.6,607.3 437.6,607.4 438.6,607.5 439.6,607.5 440.6,607.6 441.6,607.7 442.6,607.7 443.6,607.8 444.6,607.8 445.6,607.9 446.6,608.0 447.6,608.0" stroke="#0000ff" stroke-width="1.1" stroke-dasharray="3.3,3.2"/>
</g>
<g font-size="12.1" fill="#000">
<text x="54.8" y="252.43">5</text>
<text x="49.1" y="193.61">10</text>
<text x="49.1" y="134.79">15</text>
<text x="49.1" y="75.97">20</text>
<text x="49.1" y="17.15">25</text>
<text x="50.7" y="613.75">0</text>
<text x="37.4" y="563.42">0.05</text>
<text x="42.6" y="513.08">0.1</text>
<text x="37.4" y="462.75">0.15</text>
<text x="42.6" y="412.42">0.2</text>
<text x="37.4" y="362.08">0.25</text>
<text x="42.6" y="311.75">0.3</text>
<text x="53.70" y="623.6">0.35</text>
<text x="122.00" y="623.6">0.4</text>
<text x="179.40" y="623.6">0.45</text>
<text x="242.50" y="623.6">0.5</text>
<text x="299.90" y="623.6">0.55</text>
<text x="362.90" y="623.6">0.6</text>
<text x="421.10" y="623.6">0.65</text>
<text x="484.20" y="623.6">0.7</text>
</g>
<g font-size="14" fill="#000">
<text transform="translate(32.1,156.8) rotate(-90)" text-anchor="middle">Compressibility factor</text>
<text transform="translate(32.5,472.8) rotate(-90)" text-anchor="middle">Compressibility</text>
<text x="281.3" y="643.2" text-anchor="middle">Packing fraction</text>
</g>
<rect x="72" y="24.6" width="222" height="67.4" fill="#fff"/>
<g font-size="12.05" fill="#000">
<text x="261.6" y="38.20" text-anchor="end">Alder, Hoover and Young EoS (fcc)</text>
<text x="261.6" y="50.65" text-anchor="end">Speedy EoS (fcc)</text>
<text x="261.6" y="63.10" text-anchor="end">Carnahan-Starling EoS</text>
<text x="261.6" y="75.55" text-anchor="end">Kolafa EoS</text>
<text x="261.6" y="88.00" text-anchor="end">Bannerman et al. EoS</text>
</g>
<g stroke="#000" stroke-width="0.9" fill="none">
<line x1="264.5" y1="33.4" x2="291.2" y2="33.4"/>
<line x1="264.5" y1="46.0" x2="291.2" y2="46.0"/>
<line x1="264.5" y1="59.6" x2="291.2" y2="59.6"/>
<line x1="264.5" y1="72.7" x2="291.2" y2="72.7"/>
<line x1="264.5" y1="84.5" x2="291.2" y2="84.5"/>
<circle cx="277.6" cy="33.4" r="1.8" fill="#fff" stroke-width="0.8"/>
<path d="M275.20000000000005,44.5 L280.0,44.5 L277.6,48.6 Z" fill="#111" stroke="none"/>
<circle cx="277.6" cy="59.6" r="2.2" fill="#111" stroke="none"/>
<path d="M275.5,70.60000000000001 L279.70000000000005,74.8 M275.5,74.8 L279.70000000000005,70.60000000000001 M277.6,70.0 L277.6,75.4" stroke-width="0.9"/>
<rect x="275.6" y="82.5" width="4" height="4" fill="none" stroke-width="0.85"/>
</g>
<rect x="284.6" y="276.2" width="200.8" height="46.9" fill="#fff" stroke="#222" stroke-width="0.85"/>
<g font-size="12.05" fill="#000">
<text x="453.0" y="291.20" text-anchor="end">32 particles (<tspan font-style="italic">K</tspan>=500, <tspan font-style="italic">M</tspan>=80)</text>
<text x="453.0" y="303.60" text-anchor="end">64 particles (<tspan font-style="italic">K</tspan>=1000, <tspan font-style="italic">M</tspan>=80)</text>
<text x="453.0" y="316.00" text-anchor="end">128 particles (<tspan font-style="italic">K</tspan>=1500, <tspan font-style="italic">M</tspan>=320)</text>
</g>
<line x1="453.7" y1="287.4" x2="481.2" y2="287.4" stroke="#ff0000" stroke-width="1.5"/>
<line x1="453.7" y1="299.2" x2="481.2" y2="299.2" stroke="#00ff00" stroke-width="1.5"/>
<line x1="453.7" y1="310.9" x2="481.2" y2="310.9" stroke="#0000ff" stroke-width="1.5"/>
</svg>
</body></html>
